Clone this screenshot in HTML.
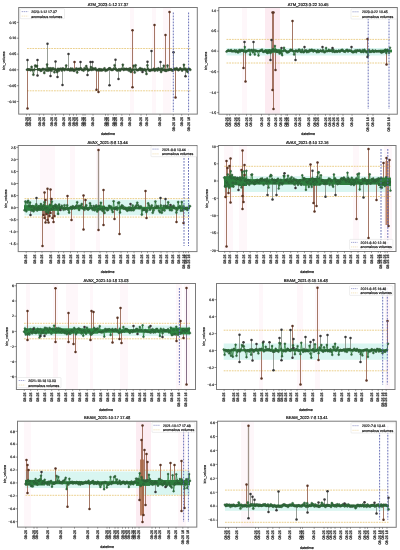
<!DOCTYPE html>
<html><head><meta charset="utf-8"><style>
html,body{margin:0;padding:0;background:#fff;width:400px;height:550px;overflow:hidden}
svg text{font-family:"Liberation Sans", sans-serif;text-rendering:geometricPrecision}
svg{will-change:transform}
svg text{stroke:#1a1a1a;stroke-width:0.2px;paint-order:stroke}
svg text.xl{fill:#2a2a2a;stroke:#2a2a2a;stroke-width:0.25px}
</style></head><body>
<svg width="400" height="550" viewBox="0 0 400 550" style="display:block">
<defs><marker id="m0" markerUnits="userSpaceOnUse" markerWidth="4" markerHeight="4" refX="2" refY="2" overflow="visible"><circle cx="2" cy="2" r="1.05" fill="#345e33" stroke="#2a3a2a" stroke-width="0.4"/></marker><marker id="m1" markerUnits="userSpaceOnUse" markerWidth="4" markerHeight="4" refX="2" refY="2" overflow="visible"><circle cx="2" cy="2" r="0.95" fill="#2e7d3e" stroke="#2c4431" stroke-width="0.4"/></marker><marker id="m2" markerUnits="userSpaceOnUse" markerWidth="4" markerHeight="4" refX="2" refY="2" overflow="visible"><circle cx="2" cy="2" r="1.05" fill="#2e7d3e" stroke="#2c4431" stroke-width="0.4"/></marker><marker id="m3" markerUnits="userSpaceOnUse" markerWidth="4" markerHeight="4" refX="2" refY="2" overflow="visible"><circle cx="2" cy="2" r="0.95" fill="#2e7d3e" stroke="#2c4431" stroke-width="0.4"/></marker><marker id="m4" markerUnits="userSpaceOnUse" markerWidth="4" markerHeight="4" refX="2" refY="2" overflow="visible"><circle cx="2" cy="2" r="0.95" fill="#2d8542" stroke="#2c4431" stroke-width="0.4"/></marker><marker id="m5" markerUnits="userSpaceOnUse" markerWidth="4" markerHeight="4" refX="2" refY="2" overflow="visible"><circle cx="2" cy="2" r="0.95" fill="#2e7d3e" stroke="#2c4431" stroke-width="0.4"/></marker><marker id="m6" markerUnits="userSpaceOnUse" markerWidth="4" markerHeight="4" refX="2" refY="2" overflow="visible"><circle cx="2" cy="2" r="0.95" fill="#2e7d3e" stroke="#2c4431" stroke-width="0.4"/></marker><marker id="m7" markerUnits="userSpaceOnUse" markerWidth="4" markerHeight="4" refX="2" refY="2" overflow="visible"><circle cx="2" cy="2" r="1.1" fill="#2e7d3e" stroke="#2c4431" stroke-width="0.4"/></marker></defs>
<rect width="400" height="550" fill="#fff"/>
<g>
<rect x="130" y="8.0" width="4" height="105.6" fill="#fef7fa"/>
<rect x="152" y="8.0" width="4" height="105.6" fill="#fef7fa"/>
<rect x="163" y="8.0" width="8" height="105.6" fill="#fef7fa"/>
<line x1="27.0" y1="48.5" x2="190.3" y2="48.5" stroke="#ebd08e" stroke-width="1.0" stroke-dasharray="1.8,0.9"/>
<line x1="27.0" y1="90.8" x2="190.3" y2="90.8" stroke="#ebd08e" stroke-width="1.0" stroke-dasharray="1.8,0.9"/>
<line x1="27.5" y1="69.5" x2="27.5" y2="108.6" stroke="#8e5640" stroke-width="0.8"/>
<line x1="27.5" y1="69.5" x2="27.5" y2="60" stroke="#7e857c" stroke-width="0.8"/>
<line x1="37.5" y1="69.5" x2="37.5" y2="60" stroke="#7e857c" stroke-width="0.8"/>
<line x1="37.5" y1="69.5" x2="37.5" y2="75.6" stroke="#7e857c" stroke-width="0.8"/>
<line x1="47.5" y1="69.5" x2="47.5" y2="43.8" stroke="#7e857c" stroke-width="0.8"/>
<line x1="50.5" y1="69.5" x2="50.5" y2="76" stroke="#7e857c" stroke-width="0.8"/>
<line x1="55.5" y1="69.5" x2="55.5" y2="61.6" stroke="#7e857c" stroke-width="0.8"/>
<line x1="57.5" y1="69.5" x2="57.5" y2="77" stroke="#7e857c" stroke-width="0.8"/>
<line x1="62.5" y1="69.5" x2="62.5" y2="85" stroke="#7e857c" stroke-width="0.8"/>
<line x1="68.5" y1="69.5" x2="68.5" y2="54" stroke="#7e857c" stroke-width="0.8"/>
<line x1="74.5" y1="69.5" x2="74.5" y2="62" stroke="#8e5640" stroke-width="0.8"/>
<line x1="80.5" y1="69.5" x2="80.5" y2="62" stroke="#7e857c" stroke-width="0.8"/>
<line x1="87.5" y1="69.5" x2="87.5" y2="75" stroke="#7e857c" stroke-width="0.8"/>
<line x1="90.5" y1="69.5" x2="90.5" y2="62" stroke="#7e857c" stroke-width="0.8"/>
<line x1="92.5" y1="69.5" x2="92.5" y2="62" stroke="#7e857c" stroke-width="0.8"/>
<line x1="96.5" y1="69.5" x2="96.5" y2="89.8" stroke="#8e5640" stroke-width="0.8"/>
<line x1="98.5" y1="69.5" x2="98.5" y2="92" stroke="#8e5640" stroke-width="0.8"/>
<line x1="109.5" y1="69.5" x2="109.5" y2="85.2" stroke="#7e857c" stroke-width="0.8"/>
<line x1="115.5" y1="69.5" x2="115.5" y2="59.8" stroke="#7e857c" stroke-width="0.8"/>
<line x1="118.5" y1="69.5" x2="118.5" y2="78.9" stroke="#7e857c" stroke-width="0.8"/>
<line x1="132.5" y1="69.5" x2="132.5" y2="30.3" stroke="#8e5640" stroke-width="0.8"/>
<line x1="132.5" y1="69.5" x2="132.5" y2="87.3" stroke="#8e5640" stroke-width="0.8"/>
<line x1="147.5" y1="69.5" x2="147.5" y2="61.8" stroke="#7e857c" stroke-width="0.8"/>
<line x1="151.5" y1="69.5" x2="151.5" y2="50.9" stroke="#7e857c" stroke-width="0.8"/>
<line x1="154.5" y1="69.5" x2="154.5" y2="25" stroke="#8e5640" stroke-width="0.8"/>
<line x1="165.5" y1="69.5" x2="165.5" y2="35.1" stroke="#8e5640" stroke-width="0.8"/>
<line x1="169.5" y1="69.5" x2="169.5" y2="12" stroke="#8e5640" stroke-width="0.8"/>
<line x1="173.5" y1="69.5" x2="173.5" y2="52.2" stroke="#7e857c" stroke-width="0.8"/>
<line x1="175.5" y1="69.5" x2="175.5" y2="97.5" stroke="#8e5640" stroke-width="0.8"/>
<line x1="185.5" y1="69.5" x2="185.5" y2="76.3" stroke="#7e857c" stroke-width="0.8"/>
<line x1="160.5" y1="69.5" x2="160.5" y2="62" stroke="#7e857c" stroke-width="0.8"/>
<line x1="142.5" y1="69.5" x2="142.5" y2="72" stroke="#7e857c" stroke-width="0.8"/>
<rect x="27.0" y="68.9" width="163.3" height="1.2" fill="#345e33"/>
<polyline points="27.0,69.7 27.9,69.4 28.8,69.7 29.7,69.5 30.6,70.3 31.6,66.9 32.5,70.0 33.4,74.7 34.3,69.8 35.2,65.6 36.1,66.5 37.0,65.9 37.9,69.5 38.9,69.5 39.8,69.4 40.7,70.8 41.6,70.4 42.5,69.0 43.4,69.0 44.3,73.0 45.2,69.2 46.2,70.4 47.1,64.5 48.0,70.7 48.9,68.4 49.8,70.2 50.7,68.4 51.6,70.7 52.5,68.5 53.5,68.5 54.4,72.3 55.3,69.4 56.2,70.1 57.1,72.1 58.0,68.8 58.9,70.7 59.8,69.0 60.8,68.7 61.7,70.4 62.6,68.5 63.5,68.8 64.4,70.2 65.3,69.0 66.2,65.5 67.1,69.8 68.1,69.4 69.0,69.5 69.9,70.5 70.8,68.6 71.7,70.3 72.6,68.7 73.5,70.6 74.4,70.7 75.4,69.8 76.3,68.5 77.2,72.5 78.1,68.9 79.0,69.8 79.9,68.7 80.8,68.4 81.7,69.7 82.6,69.8 83.6,70.6 84.5,68.2 85.4,69.4 86.3,66.1 87.2,68.5 88.1,70.5 89.0,69.9 89.9,69.7 90.9,67.1 91.8,70.0 92.7,68.3 93.6,69.5 94.5,69.0 95.4,68.4 96.3,70.1 97.2,70.1 98.2,70.3 99.1,69.1 100.0,70.5 100.9,69.3 101.8,70.4 102.7,69.8 103.6,69.7 104.5,68.4 105.5,70.8 106.4,70.1 107.3,70.1 108.2,69.3 109.1,68.4 110.0,68.3 110.9,69.5 111.8,70.0 112.8,69.8 113.7,68.9 114.6,65.2 115.5,68.6 116.4,69.9 117.3,70.5 118.2,69.9 119.1,69.3 120.1,70.6 121.0,69.2 121.9,69.0 122.8,64.7 123.7,70.0 124.6,68.9 125.5,69.4 126.4,68.8 127.4,69.8 128.3,69.0 129.2,70.8 130.1,68.4 131.0,71.9 131.9,69.7 132.8,70.3 133.7,65.8 134.7,72.5 135.6,65.3 136.5,69.8 137.4,70.3 138.3,70.0 139.2,69.4 140.1,68.2 141.0,70.1 141.9,68.9 142.9,70.0 143.8,69.8 144.7,69.2 145.6,70.6 146.5,74.0 147.4,65.3 148.3,69.2 149.2,70.5 150.2,70.7 151.1,69.9 152.0,70.1 152.9,69.9 153.8,68.8 154.7,70.7 155.6,69.6 156.5,69.0 157.5,70.4 158.4,68.4 159.3,69.6 160.2,69.5 161.1,72.0 162.0,68.6 162.9,70.2 163.8,65.7 164.8,70.4 165.7,70.7 166.6,70.7 167.5,65.6 168.4,70.1 169.3,69.6 170.2,69.7 171.1,69.2 172.1,70.5 173.0,70.4 173.9,69.6 174.8,68.7 175.7,69.5 176.6,68.3 177.5,69.5 178.4,70.3 179.4,69.5 180.3,68.4 181.2,69.3 182.1,70.6 183.0,69.4 183.9,64.8 184.8,69.4 185.7,68.7 186.7,70.6 187.6,71.9 188.5,68.8 189.4,69.0 190.3,69.8" fill="none" stroke="#345e33" stroke-width="0.8" stroke-linejoin="round" marker-start="url(#m0)" marker-mid="url(#m0)" marker-end="url(#m0)"/>
<circle cx="27.5" cy="108.6" r="1.25" fill="#5a3424"/>
<circle cx="27.5" cy="60" r="1.25" fill="#383838"/>
<circle cx="37.5" cy="60" r="1.25" fill="#383838"/>
<circle cx="37.5" cy="75.6" r="1.25" fill="#383838"/>
<circle cx="47.5" cy="43.8" r="1.25" fill="#383838"/>
<circle cx="50.5" cy="76" r="1.25" fill="#383838"/>
<circle cx="55.5" cy="61.6" r="1.25" fill="#383838"/>
<circle cx="57.5" cy="77" r="1.25" fill="#383838"/>
<circle cx="62.5" cy="85" r="1.25" fill="#383838"/>
<circle cx="68.5" cy="54" r="1.25" fill="#383838"/>
<circle cx="74.5" cy="62" r="1.25" fill="#5a3424"/>
<circle cx="80.5" cy="62" r="1.25" fill="#383838"/>
<circle cx="87.5" cy="75" r="1.25" fill="#383838"/>
<circle cx="90.5" cy="62" r="1.25" fill="#383838"/>
<circle cx="92.5" cy="62" r="1.25" fill="#383838"/>
<circle cx="96.5" cy="89.8" r="1.25" fill="#5a3424"/>
<circle cx="98.5" cy="92" r="1.25" fill="#5a3424"/>
<circle cx="109.5" cy="85.2" r="1.25" fill="#383838"/>
<circle cx="115.5" cy="59.8" r="1.25" fill="#383838"/>
<circle cx="118.5" cy="78.9" r="1.25" fill="#383838"/>
<circle cx="132.5" cy="30.3" r="1.25" fill="#5a3424"/>
<circle cx="132.5" cy="87.3" r="1.25" fill="#5a3424"/>
<circle cx="147.5" cy="61.8" r="1.25" fill="#383838"/>
<circle cx="151.5" cy="50.9" r="1.25" fill="#383838"/>
<circle cx="154.5" cy="25" r="1.25" fill="#5a3424"/>
<circle cx="165.5" cy="35.1" r="1.25" fill="#5a3424"/>
<circle cx="169.5" cy="12" r="1.25" fill="#5a3424"/>
<circle cx="173.5" cy="52.2" r="1.25" fill="#383838"/>
<circle cx="175.5" cy="97.5" r="1.25" fill="#5a3424"/>
<circle cx="185.5" cy="76.3" r="1.25" fill="#383838"/>
<circle cx="160.5" cy="62" r="1.25" fill="#383838"/>
<circle cx="142.5" cy="72" r="1.25" fill="#383838"/>
<line x1="173.3" y1="12.5" x2="173.3" y2="112" stroke="#5a62b0" stroke-width="0.9" stroke-dasharray="1.8,1.2"/>
<line x1="188.6" y1="12.5" x2="188.6" y2="112" stroke="#5a62b0" stroke-width="0.9" stroke-dasharray="1.8,1.2"/>
<rect x="18.7" y="7.5" width="178.6" height="106.6" fill="none" stroke="#7a7a7a" stroke-width="1.0"/>
<line x1="16.7" y1="22.4" x2="18.7" y2="22.4" stroke="#444" stroke-width="0.6"/>
<text x="16.1" y="23.6" font-size="3.4" text-anchor="end" fill="#1a1a1a">0.15</text>
<line x1="16.7" y1="38.2" x2="18.7" y2="38.2" stroke="#444" stroke-width="0.6"/>
<text x="16.1" y="39.4" font-size="3.4" text-anchor="end" fill="#1a1a1a">0.10</text>
<line x1="16.7" y1="54.1" x2="18.7" y2="54.1" stroke="#444" stroke-width="0.6"/>
<text x="16.1" y="55.3" font-size="3.4" text-anchor="end" fill="#1a1a1a">0.05</text>
<line x1="16.7" y1="69.8" x2="18.7" y2="69.8" stroke="#444" stroke-width="0.6"/>
<text x="16.1" y="71.0" font-size="3.4" text-anchor="end" fill="#1a1a1a">0.00</text>
<line x1="16.7" y1="85.7" x2="18.7" y2="85.7" stroke="#444" stroke-width="0.6"/>
<text x="16.1" y="86.9" font-size="3.4" text-anchor="end" fill="#1a1a1a">−0.05</text>
<line x1="16.7" y1="101.5" x2="18.7" y2="101.5" stroke="#444" stroke-width="0.6"/>
<text x="16.1" y="102.7" font-size="3.4" text-anchor="end" fill="#1a1a1a">−0.10</text>
<line x1="26.5" y1="114.1" x2="26.5" y2="115.69999999999999" stroke="#444" stroke-width="0.5"/>
<text transform="translate(27.7,117.1) rotate(-90)" font-size="3.6" text-anchor="end" class="xl">08-25</text>
<line x1="29.5" y1="114.1" x2="29.5" y2="115.69999999999999" stroke="#444" stroke-width="0.5"/>
<text transform="translate(30.7,117.1) rotate(-90)" font-size="3.6" text-anchor="end" class="xl">08-25</text>
<line x1="39.3" y1="114.1" x2="39.3" y2="115.69999999999999" stroke="#444" stroke-width="0.5"/>
<text transform="translate(40.5,117.1) rotate(-90)" font-size="3.6" text-anchor="end" class="xl">08-25</text>
<line x1="43.7" y1="114.1" x2="43.7" y2="115.69999999999999" stroke="#444" stroke-width="0.5"/>
<text transform="translate(44.9,117.1) rotate(-90)" font-size="3.6" text-anchor="end" class="xl">08-25</text>
<line x1="52" y1="114.1" x2="52" y2="115.69999999999999" stroke="#444" stroke-width="0.5"/>
<text transform="translate(53.2,117.1) rotate(-90)" font-size="3.6" text-anchor="end" class="xl">08-25</text>
<line x1="55.5" y1="114.1" x2="55.5" y2="115.69999999999999" stroke="#444" stroke-width="0.5"/>
<text transform="translate(56.7,117.1) rotate(-90)" font-size="3.6" text-anchor="end" class="xl">08-25</text>
<line x1="63.6" y1="114.1" x2="63.6" y2="115.69999999999999" stroke="#444" stroke-width="0.5"/>
<text transform="translate(64.8,117.1) rotate(-90)" font-size="3.6" text-anchor="end" class="xl">08-25</text>
<line x1="69.5" y1="114.1" x2="69.5" y2="115.69999999999999" stroke="#444" stroke-width="0.5"/>
<text transform="translate(70.7,117.1) rotate(-90)" font-size="3.6" text-anchor="end" class="xl">08-25</text>
<line x1="73.5" y1="114.1" x2="73.5" y2="115.69999999999999" stroke="#444" stroke-width="0.5"/>
<text transform="translate(74.7,117.1) rotate(-90)" font-size="3.6" text-anchor="end" class="xl">08-25</text>
<line x1="76.5" y1="114.1" x2="76.5" y2="115.69999999999999" stroke="#444" stroke-width="0.5"/>
<text transform="translate(77.7,117.1) rotate(-90)" font-size="3.6" text-anchor="end" class="xl">08-25</text>
<line x1="83" y1="114.1" x2="83" y2="115.69999999999999" stroke="#444" stroke-width="0.5"/>
<text transform="translate(84.2,117.1) rotate(-90)" font-size="3.6" text-anchor="end" class="xl">08-25</text>
<line x1="85" y1="114.1" x2="85" y2="115.69999999999999" stroke="#444" stroke-width="0.5"/>
<text transform="translate(86.2,117.1) rotate(-90)" font-size="3.6" text-anchor="end" class="xl">08-25</text>
<line x1="93" y1="114.1" x2="93" y2="115.69999999999999" stroke="#444" stroke-width="0.5"/>
<text transform="translate(94.2,117.1) rotate(-90)" font-size="3.6" text-anchor="end" class="xl">08-25</text>
<line x1="105.5" y1="114.1" x2="105.5" y2="115.69999999999999" stroke="#444" stroke-width="0.5"/>
<text transform="translate(106.7,117.1) rotate(-90)" font-size="3.6" text-anchor="end" class="xl">08-25</text>
<line x1="108" y1="114.1" x2="108" y2="115.69999999999999" stroke="#444" stroke-width="0.5"/>
<text transform="translate(109.2,117.1) rotate(-90)" font-size="3.6" text-anchor="end" class="xl">08-25</text>
<line x1="113.5" y1="114.1" x2="113.5" y2="115.69999999999999" stroke="#444" stroke-width="0.5"/>
<text transform="translate(114.7,117.1) rotate(-90)" font-size="3.6" text-anchor="end" class="xl">08-25</text>
<line x1="116" y1="114.1" x2="116" y2="115.69999999999999" stroke="#444" stroke-width="0.5"/>
<text transform="translate(117.2,117.1) rotate(-90)" font-size="3.6" text-anchor="end" class="xl">08-25</text>
<line x1="121.8" y1="114.1" x2="121.8" y2="115.69999999999999" stroke="#444" stroke-width="0.5"/>
<text transform="translate(123.0,117.1) rotate(-90)" font-size="3.6" text-anchor="end" class="xl">08-25</text>
<line x1="129.5" y1="114.1" x2="129.5" y2="115.69999999999999" stroke="#444" stroke-width="0.5"/>
<text transform="translate(130.7,117.1) rotate(-90)" font-size="3.6" text-anchor="end" class="xl">08-25</text>
<line x1="141" y1="114.1" x2="141" y2="115.69999999999999" stroke="#444" stroke-width="0.5"/>
<text transform="translate(142.2,117.1) rotate(-90)" font-size="3.6" text-anchor="end" class="xl">08-25</text>
<line x1="146.5" y1="114.1" x2="146.5" y2="115.69999999999999" stroke="#444" stroke-width="0.5"/>
<text transform="translate(147.7,117.1) rotate(-90)" font-size="3.6" text-anchor="end" class="xl">08-25</text>
<line x1="160" y1="114.1" x2="160" y2="115.69999999999999" stroke="#444" stroke-width="0.5"/>
<text transform="translate(161.2,117.1) rotate(-90)" font-size="3.6" text-anchor="end" class="xl">08-25</text>
<line x1="181.7" y1="114.1" x2="181.7" y2="115.69999999999999" stroke="#444" stroke-width="0.5"/>
<text transform="translate(182.9,117.1) rotate(-90)" font-size="3.6" text-anchor="end" class="xl">08-25</text>
<line x1="173.3" y1="114.1" x2="173.3" y2="115.69999999999999" stroke="#444" stroke-width="0.5"/>
<text transform="translate(174.5,117.1) rotate(-90)" font-size="3.6" text-anchor="end" class="xl">08-25 16</text>
<line x1="188.5" y1="114.1" x2="188.5" y2="115.69999999999999" stroke="#444" stroke-width="0.5"/>
<text transform="translate(189.7,117.1) rotate(-90)" font-size="3.6" text-anchor="end" class="xl">08-25 16</text>
<text x="108.0" y="5.6" font-size="4.1" text-anchor="middle" fill="#1a1a1a">ATM_2023-1-12 17.37</text>
<text x="108.0" y="135.3" font-size="3.6" text-anchor="middle" fill="#1a1a1a">datetime</text>
<text transform="translate(5.3,60.8) rotate(-90)" font-size="3.6" text-anchor="middle" fill="#1a1a1a">bin_volume</text>
<rect x="20.2" y="8.7" width="44.3" height="10.0" rx="0.8" fill="#fff" fill-opacity="0.85" stroke="#d4d4d4" stroke-width="0.4"/>
<line x1="21.7" y1="11.6" x2="28.2" y2="11.6" stroke="#5a62b0" stroke-width="0.6" stroke-dasharray="1.2,0.8"/>
<line x1="21.7" y1="16.1" x2="28.2" y2="16.1" stroke="#ebd08e" stroke-width="0.6" stroke-dasharray="1.2,0.8"/>
<text x="31.2" y="13.2" font-size="3.5" fill="#1a1a1a">2023-1-12 17.37</text>
<text x="31.2" y="17.6" font-size="3.5" fill="#1a1a1a">anomalous volumes</text>
</g>
<g>
<rect x="242" y="8.0" width="5" height="105.7" fill="#fef7fa"/>
<rect x="265" y="8.0" width="15" height="105.7" fill="#fcebf1"/>
<rect x="226.5" y="48" width="163.5" height="7.5" fill="#d9f6f1"/>
<line x1="226.5" y1="39.4" x2="390.0" y2="39.4" stroke="#ebd08e" stroke-width="1.0" stroke-dasharray="1.8,0.9"/>
<line x1="226.5" y1="63.0" x2="390.0" y2="63.0" stroke="#ebd08e" stroke-width="1.0" stroke-dasharray="1.8,0.9"/>
<line x1="243.5" y1="51.0" x2="243.5" y2="68" stroke="#8e5640" stroke-width="0.8"/>
<line x1="245.5" y1="51.0" x2="245.5" y2="81.4" stroke="#8e5640" stroke-width="0.8"/>
<line x1="244.5" y1="51.0" x2="244.5" y2="42" stroke="#7e857c" stroke-width="0.8"/>
<line x1="253.5" y1="51.0" x2="253.5" y2="42" stroke="#7e857c" stroke-width="0.8"/>
<line x1="272.5" y1="51.0" x2="272.5" y2="12.5" stroke="#8e5640" stroke-width="0.8"/>
<line x1="273.5" y1="51.0" x2="273.5" y2="12.5" stroke="#8e5640" stroke-width="0.8"/>
<line x1="273.5" y1="51.0" x2="273.5" y2="109" stroke="#8e5640" stroke-width="0.8"/>
<line x1="272.5" y1="51.0" x2="272.5" y2="90" stroke="#8e5640" stroke-width="0.8"/>
<line x1="275.5" y1="51.0" x2="275.5" y2="70" stroke="#8e5640" stroke-width="0.8"/>
<line x1="271.5" y1="51.0" x2="271.5" y2="40" stroke="#7e857c" stroke-width="0.8"/>
<line x1="292.5" y1="51.0" x2="292.5" y2="20.9" stroke="#8e5640" stroke-width="0.8"/>
<line x1="295.5" y1="51.0" x2="295.5" y2="60" stroke="#7e857c" stroke-width="0.8"/>
<line x1="270.5" y1="51.0" x2="270.5" y2="60" stroke="#7e857c" stroke-width="0.8"/>
<line x1="281.5" y1="51.0" x2="281.5" y2="48" stroke="#7e857c" stroke-width="0.8"/>
<line x1="367.5" y1="51.0" x2="367.5" y2="39" stroke="#8e5640" stroke-width="0.8"/>
<line x1="367.5" y1="51.0" x2="367.5" y2="57" stroke="#7e857c" stroke-width="0.8"/>
<line x1="386.5" y1="51.0" x2="386.5" y2="64.5" stroke="#8e5640" stroke-width="0.8"/>
<line x1="322.5" y1="51.0" x2="322.5" y2="47" stroke="#7e857c" stroke-width="0.8"/>
<line x1="351.5" y1="51.0" x2="351.5" y2="47" stroke="#7e857c" stroke-width="0.8"/>
<line x1="304.5" y1="51.0" x2="304.5" y2="47" stroke="#7e857c" stroke-width="0.8"/>
<line x1="332.5" y1="51.0" x2="332.5" y2="48" stroke="#7e857c" stroke-width="0.8"/>
<rect x="226.5" y="50.4" width="163.5" height="1.3" fill="#2e7d3e"/>
<rect x="265.0" y="49.2" width="17.0" height="3.5" fill="#2e7d3e"/>
<rect x="380.0" y="49.6" width="12.0" height="2.8" fill="#2e7d3e"/>
<polyline points="226.5,51.6 227.4,51.0 228.3,50.2 229.2,50.8 230.2,50.8 231.1,50.0 232.0,51.4 232.9,51.1 233.8,51.3 234.7,50.3 235.6,51.9 236.5,50.5 237.5,52.2 238.4,52.4 239.3,50.0 240.2,51.6 241.1,49.9 242.0,50.8 242.9,50.0 243.9,51.5 244.8,46.9 245.7,52.3 246.6,51.0 247.5,51.0 248.4,50.1 249.3,49.9 250.2,54.7 251.2,50.0 252.1,50.2 253.0,52.4 253.9,49.9 254.8,54.6 255.7,50.5 256.6,51.0 257.6,51.3 258.5,55.5 259.4,50.9 260.3,50.7 261.2,50.1 262.1,49.6 263.0,51.8 263.9,52.0 264.9,50.7 265.8,51.0 266.7,52.5 267.6,53.1 268.5,52.4 269.4,50.5 270.3,52.9 271.3,52.3 272.2,50.5 273.1,48.9 274.0,50.8 274.9,45.9 275.8,49.7 276.7,51.8 277.7,51.8 278.6,51.2 279.5,53.5 280.4,52.0 281.3,53.4 282.2,55.2 283.1,50.7 284.0,47.7 285.0,50.3 285.9,51.1 286.8,52.3 287.7,52.4 288.6,51.9 289.5,51.3 290.4,49.7 291.4,50.0 292.3,50.1 293.2,51.3 294.1,54.5 295.0,51.3 295.9,50.4 296.8,51.2 297.7,51.6 298.7,49.6 299.6,49.7 300.5,51.7 301.4,52.1 302.3,49.7 303.2,52.2 304.1,52.1 305.1,50.9 306.0,50.3 306.9,52.2 307.8,50.9 308.7,51.9 309.6,49.9 310.5,50.9 311.4,49.7 312.4,49.9 313.3,51.5 314.2,50.3 315.1,50.8 316.0,51.1 316.9,52.3 317.8,50.3 318.8,52.1 319.7,51.3 320.6,50.4 321.5,51.2 322.4,51.4 323.3,50.1 324.2,52.3 325.1,52.1 326.1,47.9 327.0,51.3 327.9,51.1 328.8,49.8 329.7,51.1 330.6,50.6 331.5,50.2 332.5,51.7 333.4,49.8 334.3,51.9 335.2,51.8 336.1,50.8 337.0,51.9 337.9,51.4 338.8,50.5 339.8,51.7 340.7,50.8 341.6,49.9 342.5,49.8 343.4,51.2 344.3,51.5 345.2,51.8 346.2,50.2 347.1,49.8 348.0,51.6 348.9,50.4 349.8,50.6 350.7,50.6 351.6,51.6 352.6,52.2 353.5,52.2 354.4,51.8 355.3,50.5 356.2,52.2 357.1,50.3 358.0,50.6 358.9,50.7 359.9,50.1 360.8,51.8 361.7,51.9 362.6,50.1 363.5,52.1 364.4,49.7 365.3,51.1 366.3,52.3 367.2,51.9 368.1,55.4 369.0,49.8 369.9,52.1 370.8,51.4 371.7,51.7 372.6,50.3 373.6,51.7 374.5,51.7 375.4,50.5 376.3,51.5 377.2,51.1 378.1,51.6 379.0,50.7 380.0,51.5 380.9,52.2 381.8,52.6 382.7,51.6 383.6,51.8 384.5,50.7 385.4,49.6 386.3,53.0 387.3,49.7 388.2,50.7 389.1,52.9 390.0,47.7" fill="none" stroke="#2e7d3e" stroke-width="0.8" stroke-linejoin="round" marker-start="url(#m1)" marker-mid="url(#m1)" marker-end="url(#m1)"/>
<circle cx="243.5" cy="68" r="1.25" fill="#5a3424"/>
<circle cx="245.5" cy="81.4" r="1.25" fill="#5a3424"/>
<circle cx="244.5" cy="42" r="1.25" fill="#383838"/>
<circle cx="253.5" cy="42" r="1.25" fill="#383838"/>
<circle cx="272.5" cy="12.5" r="1.25" fill="#5a3424"/>
<circle cx="273.5" cy="12.5" r="1.25" fill="#5a3424"/>
<circle cx="273.5" cy="109" r="1.25" fill="#5a3424"/>
<circle cx="272.5" cy="90" r="1.25" fill="#5a3424"/>
<circle cx="275.5" cy="70" r="1.25" fill="#5a3424"/>
<circle cx="271.5" cy="40" r="1.25" fill="#383838"/>
<circle cx="292.5" cy="20.9" r="1.25" fill="#5a3424"/>
<circle cx="295.5" cy="60" r="1.25" fill="#383838"/>
<circle cx="270.5" cy="60" r="1.25" fill="#383838"/>
<circle cx="281.5" cy="48" r="1.25" fill="#383838"/>
<circle cx="367.5" cy="39" r="1.25" fill="#5a3424"/>
<circle cx="367.5" cy="57" r="1.25" fill="#383838"/>
<circle cx="386.5" cy="64.5" r="1.25" fill="#5a3424"/>
<circle cx="322.5" cy="47" r="1.25" fill="#383838"/>
<circle cx="351.5" cy="47" r="1.25" fill="#383838"/>
<circle cx="304.5" cy="47" r="1.25" fill="#383838"/>
<circle cx="332.5" cy="48" r="1.25" fill="#383838"/>
<line x1="368.2" y1="12.5" x2="368.2" y2="109" stroke="#5a62b0" stroke-width="0.9" stroke-dasharray="1.8,1.2"/>
<line x1="389" y1="12.5" x2="389" y2="109" stroke="#5a62b0" stroke-width="0.9" stroke-dasharray="1.8,1.2"/>
<rect x="218.8" y="7.5" width="178.5" height="106.7" fill="none" stroke="#7a7a7a" stroke-width="1.0"/>
<line x1="216.8" y1="10.7" x2="218.8" y2="10.7" stroke="#444" stroke-width="0.6"/>
<text x="216.2" y="11.9" font-size="3.4" text-anchor="end" fill="#1a1a1a">1.0</text>
<line x1="216.8" y1="31.1" x2="218.8" y2="31.1" stroke="#444" stroke-width="0.6"/>
<text x="216.2" y="32.3" font-size="3.4" text-anchor="end" fill="#1a1a1a">0.5</text>
<line x1="216.8" y1="51.2" x2="218.8" y2="51.2" stroke="#444" stroke-width="0.6"/>
<text x="216.2" y="52.4" font-size="3.4" text-anchor="end" fill="#1a1a1a">0.0</text>
<line x1="216.8" y1="71.8" x2="218.8" y2="71.8" stroke="#444" stroke-width="0.6"/>
<text x="216.2" y="73.0" font-size="3.4" text-anchor="end" fill="#1a1a1a">−0.5</text>
<line x1="216.8" y1="92.3" x2="218.8" y2="92.3" stroke="#444" stroke-width="0.6"/>
<text x="216.2" y="93.5" font-size="3.4" text-anchor="end" fill="#1a1a1a">−1.0</text>
<line x1="216.8" y1="112.7" x2="218.8" y2="112.7" stroke="#444" stroke-width="0.6"/>
<text x="216.2" y="113.9" font-size="3.4" text-anchor="end" fill="#1a1a1a">−1.5</text>
<line x1="227" y1="114.2" x2="227" y2="115.8" stroke="#444" stroke-width="0.5"/>
<text transform="translate(228.2,117.2) rotate(-90)" font-size="3.6" text-anchor="end" class="xl">08-25</text>
<line x1="229.7" y1="114.2" x2="229.7" y2="115.8" stroke="#444" stroke-width="0.5"/>
<text transform="translate(230.9,117.2) rotate(-90)" font-size="3.6" text-anchor="end" class="xl">08-25</text>
<line x1="235.5" y1="114.2" x2="235.5" y2="115.8" stroke="#444" stroke-width="0.5"/>
<text transform="translate(236.7,117.2) rotate(-90)" font-size="3.6" text-anchor="end" class="xl">08-25</text>
<line x1="239" y1="114.2" x2="239" y2="115.8" stroke="#444" stroke-width="0.5"/>
<text transform="translate(240.2,117.2) rotate(-90)" font-size="3.6" text-anchor="end" class="xl">08-25</text>
<line x1="246.5" y1="114.2" x2="246.5" y2="115.8" stroke="#444" stroke-width="0.5"/>
<text transform="translate(247.7,117.2) rotate(-90)" font-size="3.6" text-anchor="end" class="xl">08-25</text>
<line x1="251" y1="114.2" x2="251" y2="115.8" stroke="#444" stroke-width="0.5"/>
<text transform="translate(252.2,117.2) rotate(-90)" font-size="3.6" text-anchor="end" class="xl">08-25</text>
<line x1="261.5" y1="114.2" x2="261.5" y2="115.8" stroke="#444" stroke-width="0.5"/>
<text transform="translate(262.7,117.2) rotate(-90)" font-size="3.6" text-anchor="end" class="xl">08-25</text>
<line x1="269" y1="114.2" x2="269" y2="115.8" stroke="#444" stroke-width="0.5"/>
<text transform="translate(270.2,117.2) rotate(-90)" font-size="3.6" text-anchor="end" class="xl">08-25</text>
<line x1="275.8" y1="114.2" x2="275.8" y2="115.8" stroke="#444" stroke-width="0.5"/>
<text transform="translate(277.0,117.2) rotate(-90)" font-size="3.6" text-anchor="end" class="xl">08-25</text>
<line x1="281.2" y1="114.2" x2="281.2" y2="115.8" stroke="#444" stroke-width="0.5"/>
<text transform="translate(282.4,117.2) rotate(-90)" font-size="3.6" text-anchor="end" class="xl">08-25</text>
<line x1="286" y1="114.2" x2="286" y2="115.8" stroke="#444" stroke-width="0.5"/>
<text transform="translate(287.2,117.2) rotate(-90)" font-size="3.6" text-anchor="end" class="xl">08-25</text>
<line x1="287.5" y1="114.2" x2="287.5" y2="115.8" stroke="#444" stroke-width="0.5"/>
<text transform="translate(288.7,117.2) rotate(-90)" font-size="3.6" text-anchor="end" class="xl">08-25</text>
<line x1="296" y1="114.2" x2="296" y2="115.8" stroke="#444" stroke-width="0.5"/>
<text transform="translate(297.2,117.2) rotate(-90)" font-size="3.6" text-anchor="end" class="xl">08-25</text>
<line x1="299.5" y1="114.2" x2="299.5" y2="115.8" stroke="#444" stroke-width="0.5"/>
<text transform="translate(300.7,117.2) rotate(-90)" font-size="3.6" text-anchor="end" class="xl">08-25</text>
<line x1="309" y1="114.2" x2="309" y2="115.8" stroke="#444" stroke-width="0.5"/>
<text transform="translate(310.2,117.2) rotate(-90)" font-size="3.6" text-anchor="end" class="xl">08-25</text>
<line x1="315" y1="114.2" x2="315" y2="115.8" stroke="#444" stroke-width="0.5"/>
<text transform="translate(316.2,117.2) rotate(-90)" font-size="3.6" text-anchor="end" class="xl">08-25</text>
<line x1="318" y1="114.2" x2="318" y2="115.8" stroke="#444" stroke-width="0.5"/>
<text transform="translate(319.2,117.2) rotate(-90)" font-size="3.6" text-anchor="end" class="xl">08-25</text>
<line x1="325.5" y1="114.2" x2="325.5" y2="115.8" stroke="#444" stroke-width="0.5"/>
<text transform="translate(326.7,117.2) rotate(-90)" font-size="3.6" text-anchor="end" class="xl">08-25</text>
<line x1="330" y1="114.2" x2="330" y2="115.8" stroke="#444" stroke-width="0.5"/>
<text transform="translate(331.2,117.2) rotate(-90)" font-size="3.6" text-anchor="end" class="xl">08-25</text>
<line x1="334" y1="114.2" x2="334" y2="115.8" stroke="#444" stroke-width="0.5"/>
<text transform="translate(335.2,117.2) rotate(-90)" font-size="3.6" text-anchor="end" class="xl">08-25</text>
<line x1="338" y1="114.2" x2="338" y2="115.8" stroke="#444" stroke-width="0.5"/>
<text transform="translate(339.2,117.2) rotate(-90)" font-size="3.6" text-anchor="end" class="xl">08-25</text>
<line x1="343" y1="114.2" x2="343" y2="115.8" stroke="#444" stroke-width="0.5"/>
<text transform="translate(344.2,117.2) rotate(-90)" font-size="3.6" text-anchor="end" class="xl">08-25</text>
<line x1="352" y1="114.2" x2="352" y2="115.8" stroke="#444" stroke-width="0.5"/>
<text transform="translate(353.2,117.2) rotate(-90)" font-size="3.6" text-anchor="end" class="xl">08-25</text>
<line x1="373" y1="114.2" x2="373" y2="115.8" stroke="#444" stroke-width="0.5"/>
<text transform="translate(374.2,117.2) rotate(-90)" font-size="3.6" text-anchor="end" class="xl">08-25</text>
<line x1="367.8" y1="114.2" x2="367.8" y2="115.8" stroke="#444" stroke-width="0.5"/>
<text transform="translate(369.0,117.2) rotate(-90)" font-size="3.6" text-anchor="end" class="xl">08-25 16</text>
<line x1="389" y1="114.2" x2="389" y2="115.8" stroke="#444" stroke-width="0.5"/>
<text transform="translate(390.2,117.2) rotate(-90)" font-size="3.6" text-anchor="end" class="xl">08-25 16</text>
<text x="308.1" y="5.6" font-size="4.1" text-anchor="middle" fill="#1a1a1a">ATM_2023-3-22 10.45</text>
<text x="308.1" y="135.4" font-size="3.6" text-anchor="middle" fill="#1a1a1a">datetime</text>
<text transform="translate(207.3,60.9) rotate(-90)" font-size="3.6" text-anchor="middle" fill="#1a1a1a">bin_volume</text>
<rect x="351.0" y="8.9" width="45.7" height="10.1" rx="0.8" fill="#fff" fill-opacity="0.85" stroke="#d4d4d4" stroke-width="0.4"/>
<line x1="352.5" y1="11.8" x2="359.0" y2="11.8" stroke="#5a62b0" stroke-width="0.6" stroke-dasharray="1.2,0.8"/>
<line x1="352.5" y1="16.4" x2="359.0" y2="16.4" stroke="#ebd08e" stroke-width="0.6" stroke-dasharray="1.2,0.8"/>
<text x="362.0" y="13.4" font-size="3.5" fill="#1a1a1a">2023-3-22 10.45</text>
<text x="362.0" y="17.9" font-size="3.5" fill="#1a1a1a">anomalous volumes</text>
</g>
<g>
<rect x="40" y="146.0" width="15" height="105.1" fill="#fef7fa"/>
<rect x="70" y="146.0" width="5" height="105.1" fill="#fef7fa"/>
<rect x="96" y="146.0" width="4" height="105.1" fill="#fef7fa"/>
<rect x="24.5" y="199.8" width="165.5" height="15.5" fill="#d9f6f1"/>
<line x1="24.5" y1="198.6" x2="190.0" y2="198.6" stroke="#ebd08e" stroke-width="1.0" stroke-dasharray="1.8,0.9"/>
<line x1="24.5" y1="217.1" x2="190.0" y2="217.1" stroke="#ebd08e" stroke-width="1.0" stroke-dasharray="1.8,0.9"/>
<line x1="42.5" y1="208.0" x2="42.5" y2="246" stroke="#8e5640" stroke-width="0.8"/>
<line x1="44.5" y1="208.0" x2="44.5" y2="192.5" stroke="#8e5640" stroke-width="0.8"/>
<line x1="47.5" y1="208.0" x2="47.5" y2="188.7" stroke="#8e5640" stroke-width="0.8"/>
<line x1="50.5" y1="208.0" x2="50.5" y2="189.5" stroke="#8e5640" stroke-width="0.8"/>
<line x1="45.5" y1="208.0" x2="45.5" y2="222.5" stroke="#8e5640" stroke-width="0.8"/>
<line x1="48.5" y1="208.0" x2="48.5" y2="222.5" stroke="#8e5640" stroke-width="0.8"/>
<line x1="53.5" y1="208.0" x2="53.5" y2="222" stroke="#8e5640" stroke-width="0.8"/>
<line x1="67.5" y1="208.0" x2="67.5" y2="196" stroke="#8e5640" stroke-width="0.8"/>
<line x1="71.5" y1="208.0" x2="71.5" y2="220" stroke="#8e5640" stroke-width="0.8"/>
<line x1="83.5" y1="208.0" x2="83.5" y2="195.5" stroke="#8e5640" stroke-width="0.8"/>
<line x1="83.5" y1="208.0" x2="83.5" y2="229.5" stroke="#8e5640" stroke-width="0.8"/>
<line x1="85.5" y1="208.0" x2="85.5" y2="200" stroke="#8e5640" stroke-width="0.8"/>
<line x1="98.5" y1="208.0" x2="98.5" y2="150" stroke="#a0948a" stroke-width="1.3"/>
<line x1="98.5" y1="208.0" x2="98.5" y2="230" stroke="#a0948a" stroke-width="1.3"/>
<line x1="103.5" y1="208.0" x2="103.5" y2="190" stroke="#8e5640" stroke-width="0.8"/>
<line x1="103.5" y1="208.0" x2="103.5" y2="225" stroke="#8e5640" stroke-width="0.8"/>
<line x1="114.5" y1="208.0" x2="114.5" y2="219" stroke="#8e5640" stroke-width="0.8"/>
<line x1="119.5" y1="208.0" x2="119.5" y2="234" stroke="#8e5640" stroke-width="0.8"/>
<line x1="145.5" y1="208.0" x2="145.5" y2="191" stroke="#8e5640" stroke-width="0.8"/>
<line x1="146.5" y1="208.0" x2="146.5" y2="218" stroke="#8e5640" stroke-width="0.8"/>
<line x1="176.5" y1="208.0" x2="176.5" y2="222" stroke="#8e5640" stroke-width="0.8"/>
<line x1="183.5" y1="208.0" x2="183.5" y2="223" stroke="#8e5640" stroke-width="0.8"/>
<line x1="30.5" y1="208.0" x2="30.5" y2="215" stroke="#7e857c" stroke-width="0.8"/>
<line x1="36.5" y1="208.0" x2="36.5" y2="198" stroke="#7e857c" stroke-width="0.8"/>
<line x1="60.5" y1="208.0" x2="60.5" y2="210" stroke="#7e857c" stroke-width="0.8"/>
<line x1="130.5" y1="208.0" x2="130.5" y2="204" stroke="#7e857c" stroke-width="0.8"/>
<line x1="160.5" y1="208.0" x2="160.5" y2="198" stroke="#7e857c" stroke-width="0.8"/>
<line x1="165.5" y1="208.0" x2="165.5" y2="199" stroke="#7e857c" stroke-width="0.8"/>
<line x1="170.5" y1="208.0" x2="170.5" y2="205" stroke="#7e857c" stroke-width="0.8"/>
<line x1="43.5" y1="208.0" x2="43.5" y2="215" stroke="#8e5640" stroke-width="0.8"/>
<line x1="44.5" y1="208.0" x2="44.5" y2="218" stroke="#8e5640" stroke-width="0.8"/>
<line x1="46.5" y1="208.0" x2="46.5" y2="214" stroke="#8e5640" stroke-width="0.8"/>
<line x1="47.5" y1="208.0" x2="47.5" y2="220" stroke="#8e5640" stroke-width="0.8"/>
<line x1="49.5" y1="208.0" x2="49.5" y2="216" stroke="#8e5640" stroke-width="0.8"/>
<line x1="50.5" y1="208.0" x2="50.5" y2="213" stroke="#8e5640" stroke-width="0.8"/>
<line x1="52.5" y1="208.0" x2="52.5" y2="218" stroke="#8e5640" stroke-width="0.8"/>
<line x1="54.5" y1="208.0" x2="54.5" y2="216" stroke="#8e5640" stroke-width="0.8"/>
<line x1="45.5" y1="208.0" x2="45.5" y2="200" stroke="#8e5640" stroke-width="0.8"/>
<line x1="51.5" y1="208.0" x2="51.5" y2="199" stroke="#8e5640" stroke-width="0.8"/>
<rect x="24.5" y="206.8" width="165.5" height="2.5" fill="#2e7d3e"/>
<rect x="24.0" y="205.2" width="36.0" height="5.6" fill="#2e7d3e"/>
<rect x="95.0" y="205.6" width="10.0" height="4.9" fill="#2e7d3e"/>
<polyline points="24.5,210.2 25.4,201.6 26.3,211.3 27.2,202.4 28.1,200.8 29.0,205.8 30.0,202.5 30.9,206.5 31.8,210.5 32.7,206.1 33.6,211.3 34.5,208.4 35.4,207.9 36.3,204.4 37.2,210.4 38.1,208.2 39.0,206.2 40.0,209.3 40.9,204.1 41.8,207.0 42.7,209.7 43.6,205.3 44.5,202.2 45.4,208.1 46.3,211.9 47.2,208.3 48.1,213.0 49.1,210.8 50.0,204.7 50.9,209.7 51.8,201.6 52.7,208.7 53.6,206.4 54.5,207.3 55.4,204.7 56.3,205.7 57.2,208.2 58.1,213.9 59.1,204.6 60.0,207.7 60.9,207.2 61.8,205.8 62.7,207.8 63.6,209.8 64.5,205.3 65.4,209.2 66.3,208.4 67.2,205.3 68.1,209.6 69.1,212.6 70.0,208.2 70.9,207.1 71.8,208.9 72.7,206.3 73.6,207.1 74.5,208.3 75.4,207.1 76.3,205.8 77.2,202.2 78.2,206.2 79.1,209.9 80.0,205.7 80.9,206.1 81.8,204.0 82.7,207.6 83.6,208.8 84.5,209.8 85.4,207.1 86.3,205.3 87.2,209.1 88.2,209.6 89.1,208.6 90.0,203.2 90.9,205.8 91.8,208.1 92.7,209.8 93.6,206.1 94.5,210.2 95.4,207.0 96.3,205.5 97.2,211.4 98.2,209.5 99.1,205.9 100.0,208.9 100.9,202.8 101.8,209.4 102.7,211.0 103.6,207.7 104.5,212.9 105.4,208.2 106.3,208.3 107.2,210.3 108.2,209.7 109.1,205.9 110.0,206.8 110.9,206.6 111.8,209.8 112.7,212.0 113.6,201.3 114.5,208.9 115.4,208.9 116.3,207.3 117.3,209.7 118.2,202.8 119.1,202.5 120.0,212.5 120.9,207.1 121.8,205.5 122.7,206.0 123.6,208.6 124.5,207.5 125.4,209.0 126.3,209.4 127.3,210.7 128.2,210.0 129.1,207.6 130.0,210.2 130.9,208.1 131.8,210.2 132.7,205.6 133.6,210.2 134.5,208.5 135.4,206.9 136.3,205.6 137.3,202.7 138.2,205.5 139.1,208.1 140.0,206.9 140.9,206.5 141.8,214.6 142.7,210.0 143.6,209.7 144.5,209.4 145.4,210.2 146.4,212.1 147.3,210.5 148.2,203.4 149.1,205.6 150.0,209.7 150.9,207.2 151.8,205.5 152.7,212.7 153.6,210.4 154.5,207.8 155.4,201.5 156.4,206.3 157.3,207.2 158.2,206.2 159.1,210.7 160.0,212.3 160.9,205.5 161.8,212.7 162.7,210.0 163.6,206.0 164.5,210.4 165.4,205.7 166.4,206.9 167.3,206.3 168.2,202.3 169.1,207.3 170.0,210.1 170.9,206.5 171.8,210.3 172.7,206.8 173.6,205.7 174.5,207.7 175.5,208.2 176.4,212.6 177.3,209.7 178.2,202.0 179.1,206.8 180.0,206.3 180.9,210.7 181.8,202.0 182.7,210.4 183.6,206.2 184.5,208.8 185.5,208.9 186.4,208.1 187.3,209.9 188.2,208.1 189.1,206.2 190.0,206.2" fill="none" stroke="#2e7d3e" stroke-width="0.8" stroke-linejoin="round" marker-start="url(#m2)" marker-mid="url(#m2)" marker-end="url(#m2)"/>
<circle cx="42.5" cy="246" r="1.25" fill="#5a3424"/>
<circle cx="44.5" cy="192.5" r="1.25" fill="#5a3424"/>
<circle cx="47.5" cy="188.7" r="1.25" fill="#5a3424"/>
<circle cx="50.5" cy="189.5" r="1.25" fill="#5a3424"/>
<circle cx="45.5" cy="222.5" r="1.25" fill="#5a3424"/>
<circle cx="48.5" cy="222.5" r="1.25" fill="#5a3424"/>
<circle cx="53.5" cy="222" r="1.25" fill="#5a3424"/>
<circle cx="67.5" cy="196" r="1.25" fill="#5a3424"/>
<circle cx="71.5" cy="220" r="1.25" fill="#5a3424"/>
<circle cx="83.5" cy="195.5" r="1.25" fill="#5a3424"/>
<circle cx="83.5" cy="229.5" r="1.25" fill="#5a3424"/>
<circle cx="85.5" cy="200" r="1.25" fill="#5a3424"/>
<circle cx="98.5" cy="150" r="1.25" fill="#5a3424"/>
<circle cx="98.5" cy="230" r="1.25" fill="#5a3424"/>
<circle cx="103.5" cy="190" r="1.25" fill="#5a3424"/>
<circle cx="103.5" cy="225" r="1.25" fill="#5a3424"/>
<circle cx="114.5" cy="219" r="1.25" fill="#5a3424"/>
<circle cx="119.5" cy="234" r="1.25" fill="#5a3424"/>
<circle cx="145.5" cy="191" r="1.25" fill="#5a3424"/>
<circle cx="146.5" cy="218" r="1.25" fill="#5a3424"/>
<circle cx="176.5" cy="222" r="1.25" fill="#5a3424"/>
<circle cx="183.5" cy="223" r="1.25" fill="#5a3424"/>
<circle cx="30.5" cy="215" r="1.25" fill="#383838"/>
<circle cx="36.5" cy="198" r="1.25" fill="#383838"/>
<circle cx="60.5" cy="210" r="1.25" fill="#383838"/>
<circle cx="130.5" cy="204" r="1.25" fill="#383838"/>
<circle cx="160.5" cy="198" r="1.25" fill="#383838"/>
<circle cx="165.5" cy="199" r="1.25" fill="#383838"/>
<circle cx="170.5" cy="205" r="1.25" fill="#383838"/>
<circle cx="43.5" cy="215" r="1.25" fill="#5a3424"/>
<circle cx="44.5" cy="218" r="1.25" fill="#5a3424"/>
<circle cx="46.5" cy="214" r="1.25" fill="#5a3424"/>
<circle cx="47.5" cy="220" r="1.25" fill="#5a3424"/>
<circle cx="49.5" cy="216" r="1.25" fill="#5a3424"/>
<circle cx="50.5" cy="213" r="1.25" fill="#5a3424"/>
<circle cx="52.5" cy="218" r="1.25" fill="#5a3424"/>
<circle cx="54.5" cy="216" r="1.25" fill="#5a3424"/>
<circle cx="45.5" cy="200" r="1.25" fill="#5a3424"/>
<circle cx="51.5" cy="199" r="1.25" fill="#5a3424"/>
<line x1="184" y1="149" x2="184" y2="246" stroke="#5a62b0" stroke-width="0.9" stroke-dasharray="1.8,1.2"/>
<line x1="188.5" y1="149" x2="188.5" y2="246" stroke="#5a62b0" stroke-width="0.9" stroke-dasharray="1.8,1.2"/>
<rect x="18.2" y="145.5" width="178.8" height="106.1" fill="none" stroke="#7a7a7a" stroke-width="1.0"/>
<line x1="16.2" y1="147.3" x2="18.2" y2="147.3" stroke="#444" stroke-width="0.6"/>
<text x="15.6" y="148.5" font-size="3.4" text-anchor="end" fill="#1a1a1a">2.5</text>
<line x1="16.2" y1="159.4" x2="18.2" y2="159.4" stroke="#444" stroke-width="0.6"/>
<text x="15.6" y="160.6" font-size="3.4" text-anchor="end" fill="#1a1a1a">2.0</text>
<line x1="16.2" y1="171.5" x2="18.2" y2="171.5" stroke="#444" stroke-width="0.6"/>
<text x="15.6" y="172.7" font-size="3.4" text-anchor="end" fill="#1a1a1a">1.5</text>
<line x1="16.2" y1="183.5" x2="18.2" y2="183.5" stroke="#444" stroke-width="0.6"/>
<text x="15.6" y="184.7" font-size="3.4" text-anchor="end" fill="#1a1a1a">1.0</text>
<line x1="16.2" y1="195.6" x2="18.2" y2="195.6" stroke="#444" stroke-width="0.6"/>
<text x="15.6" y="196.8" font-size="3.4" text-anchor="end" fill="#1a1a1a">0.5</text>
<line x1="16.2" y1="207.6" x2="18.2" y2="207.6" stroke="#444" stroke-width="0.6"/>
<text x="15.6" y="208.8" font-size="3.4" text-anchor="end" fill="#1a1a1a">0.0</text>
<line x1="16.2" y1="219.8" x2="18.2" y2="219.8" stroke="#444" stroke-width="0.6"/>
<text x="15.6" y="221.0" font-size="3.4" text-anchor="end" fill="#1a1a1a">−0.5</text>
<line x1="16.2" y1="231.8" x2="18.2" y2="231.8" stroke="#444" stroke-width="0.6"/>
<text x="15.6" y="233.0" font-size="3.4" text-anchor="end" fill="#1a1a1a">−1.0</text>
<line x1="16.2" y1="244" x2="18.2" y2="244" stroke="#444" stroke-width="0.6"/>
<text x="15.6" y="245.2" font-size="3.4" text-anchor="end" fill="#1a1a1a">−1.5</text>
<line x1="26.2" y1="251.6" x2="26.2" y2="253.2" stroke="#444" stroke-width="0.5"/>
<text transform="translate(27.4,254.6) rotate(-90)" font-size="3.6" text-anchor="end" class="xl">08-25</text>
<line x1="35.2" y1="251.6" x2="35.2" y2="253.2" stroke="#444" stroke-width="0.5"/>
<text transform="translate(36.4,254.6) rotate(-90)" font-size="3.6" text-anchor="end" class="xl">08-25</text>
<line x1="42" y1="251.6" x2="42" y2="253.2" stroke="#444" stroke-width="0.5"/>
<text transform="translate(43.2,254.6) rotate(-90)" font-size="3.6" text-anchor="end" class="xl">08-25</text>
<line x1="51" y1="251.6" x2="51" y2="253.2" stroke="#444" stroke-width="0.5"/>
<text transform="translate(52.2,254.6) rotate(-90)" font-size="3.6" text-anchor="end" class="xl">08-25</text>
<line x1="58.5" y1="251.6" x2="58.5" y2="253.2" stroke="#444" stroke-width="0.5"/>
<text transform="translate(59.7,254.6) rotate(-90)" font-size="3.6" text-anchor="end" class="xl">08-25</text>
<line x1="63.7" y1="251.6" x2="63.7" y2="253.2" stroke="#444" stroke-width="0.5"/>
<text transform="translate(64.9,254.6) rotate(-90)" font-size="3.6" text-anchor="end" class="xl">08-25</text>
<line x1="70.5" y1="251.6" x2="70.5" y2="253.2" stroke="#444" stroke-width="0.5"/>
<text transform="translate(71.7,254.6) rotate(-90)" font-size="3.6" text-anchor="end" class="xl">08-25</text>
<line x1="77.5" y1="251.6" x2="77.5" y2="253.2" stroke="#444" stroke-width="0.5"/>
<text transform="translate(78.7,254.6) rotate(-90)" font-size="3.6" text-anchor="end" class="xl">08-25</text>
<line x1="84.2" y1="251.6" x2="84.2" y2="253.2" stroke="#444" stroke-width="0.5"/>
<text transform="translate(85.4,254.6) rotate(-90)" font-size="3.6" text-anchor="end" class="xl">08-25</text>
<line x1="91" y1="251.6" x2="91" y2="253.2" stroke="#444" stroke-width="0.5"/>
<text transform="translate(92.2,254.6) rotate(-90)" font-size="3.6" text-anchor="end" class="xl">08-25</text>
<line x1="100" y1="251.6" x2="100" y2="253.2" stroke="#444" stroke-width="0.5"/>
<text transform="translate(101.2,254.6) rotate(-90)" font-size="3.6" text-anchor="end" class="xl">08-25</text>
<line x1="106.7" y1="251.6" x2="106.7" y2="253.2" stroke="#444" stroke-width="0.5"/>
<text transform="translate(107.9,254.6) rotate(-90)" font-size="3.6" text-anchor="end" class="xl">08-25</text>
<line x1="113.5" y1="251.6" x2="113.5" y2="253.2" stroke="#444" stroke-width="0.5"/>
<text transform="translate(114.7,254.6) rotate(-90)" font-size="3.6" text-anchor="end" class="xl">08-25</text>
<line x1="121" y1="251.6" x2="121" y2="253.2" stroke="#444" stroke-width="0.5"/>
<text transform="translate(122.2,254.6) rotate(-90)" font-size="3.6" text-anchor="end" class="xl">08-25</text>
<line x1="127.5" y1="251.6" x2="127.5" y2="253.2" stroke="#444" stroke-width="0.5"/>
<text transform="translate(128.7,254.6) rotate(-90)" font-size="3.6" text-anchor="end" class="xl">08-25</text>
<line x1="134" y1="251.6" x2="134" y2="253.2" stroke="#444" stroke-width="0.5"/>
<text transform="translate(135.2,254.6) rotate(-90)" font-size="3.6" text-anchor="end" class="xl">08-25</text>
<line x1="141.5" y1="251.6" x2="141.5" y2="253.2" stroke="#444" stroke-width="0.5"/>
<text transform="translate(142.7,254.6) rotate(-90)" font-size="3.6" text-anchor="end" class="xl">08-25</text>
<line x1="147.5" y1="251.6" x2="147.5" y2="253.2" stroke="#444" stroke-width="0.5"/>
<text transform="translate(148.7,254.6) rotate(-90)" font-size="3.6" text-anchor="end" class="xl">08-25</text>
<line x1="153.5" y1="251.6" x2="153.5" y2="253.2" stroke="#444" stroke-width="0.5"/>
<text transform="translate(154.7,254.6) rotate(-90)" font-size="3.6" text-anchor="end" class="xl">08-25</text>
<line x1="161" y1="251.6" x2="161" y2="253.2" stroke="#444" stroke-width="0.5"/>
<text transform="translate(162.2,254.6) rotate(-90)" font-size="3.6" text-anchor="end" class="xl">08-25</text>
<line x1="167" y1="251.6" x2="167" y2="253.2" stroke="#444" stroke-width="0.5"/>
<text transform="translate(168.2,254.6) rotate(-90)" font-size="3.6" text-anchor="end" class="xl">08-25</text>
<line x1="173" y1="251.6" x2="173" y2="253.2" stroke="#444" stroke-width="0.5"/>
<text transform="translate(174.2,254.6) rotate(-90)" font-size="3.6" text-anchor="end" class="xl">08-25</text>
<line x1="179" y1="251.6" x2="179" y2="253.2" stroke="#444" stroke-width="0.5"/>
<text transform="translate(180.2,254.6) rotate(-90)" font-size="3.6" text-anchor="end" class="xl">08-25</text>
<line x1="185.8" y1="251.6" x2="185.8" y2="253.2" stroke="#444" stroke-width="0.5"/>
<text transform="translate(187.0,254.6) rotate(-90)" font-size="3.6" text-anchor="end" class="xl">08-25</text>
<line x1="183.5" y1="251.6" x2="183.5" y2="253.2" stroke="#444" stroke-width="0.5"/>
<text transform="translate(184.7,254.6) rotate(-90)" font-size="3.6" text-anchor="end" class="xl">08-25 16</text>
<line x1="188.5" y1="251.6" x2="188.5" y2="253.2" stroke="#444" stroke-width="0.5"/>
<text transform="translate(189.7,254.6) rotate(-90)" font-size="3.6" text-anchor="end" class="xl">08-25 16</text>
<text x="107.6" y="143.6" font-size="4.1" text-anchor="middle" fill="#1a1a1a">AVAX_2021-8-8 13.44</text>
<text x="107.6" y="272.8" font-size="3.6" text-anchor="middle" fill="#1a1a1a">datetime</text>
<text transform="translate(6.7,198.6) rotate(-90)" font-size="3.6" text-anchor="middle" fill="#1a1a1a">bin_volume</text>
<rect x="151.0" y="146.0" width="45.7" height="10.7" rx="0.8" fill="#fff" fill-opacity="0.85" stroke="#d4d4d4" stroke-width="0.4"/>
<line x1="152.5" y1="149.1" x2="159.0" y2="149.1" stroke="#5a62b0" stroke-width="0.6" stroke-dasharray="1.2,0.8"/>
<line x1="152.5" y1="153.9" x2="159.0" y2="153.9" stroke="#ebd08e" stroke-width="0.6" stroke-dasharray="1.2,0.8"/>
<text x="162.0" y="150.7" font-size="3.5" fill="#1a1a1a">2021-8-8 13.44</text>
<text x="162.0" y="155.4" font-size="3.5" fill="#1a1a1a">anomalous volumes</text>
</g>
<g>
<rect x="224" y="146.0" width="9" height="105.0" fill="#fef7fa"/>
<rect x="239" y="146.0" width="8" height="105.0" fill="#fef7fa"/>
<rect x="353" y="146.0" width="6" height="105.0" fill="#fef7fa"/>
<rect x="384" y="146.0" width="8" height="105.0" fill="#fef7fa"/>
<rect x="224.2" y="176.2" width="166.3" height="15.800000000000011" fill="#d9f6f1"/>
<line x1="224.2" y1="166.3" x2="390.5" y2="166.3" stroke="#ebd08e" stroke-width="1.0" stroke-dasharray="1.8,0.9"/>
<line x1="224.2" y1="196.5" x2="390.5" y2="196.5" stroke="#ebd08e" stroke-width="1.0" stroke-dasharray="1.8,0.9"/>
<line x1="226.5" y1="181.8" x2="226.5" y2="246.5" stroke="#8e5640" stroke-width="0.8"/>
<line x1="226.5" y1="181.8" x2="226.5" y2="161" stroke="#8e5640" stroke-width="0.8"/>
<line x1="230.5" y1="181.8" x2="230.5" y2="158.5" stroke="#8e5640" stroke-width="0.8"/>
<line x1="230.5" y1="181.8" x2="230.5" y2="202.5" stroke="#8e5640" stroke-width="0.8"/>
<line x1="242.5" y1="181.8" x2="242.5" y2="150.4" stroke="#8e5640" stroke-width="0.8"/>
<line x1="242.5" y1="181.8" x2="242.5" y2="208.9" stroke="#8e5640" stroke-width="0.8"/>
<line x1="225.5" y1="181.8" x2="225.5" y2="197" stroke="#8e5640" stroke-width="0.8"/>
<line x1="228.5" y1="181.8" x2="228.5" y2="193" stroke="#8e5640" stroke-width="0.8"/>
<line x1="227.5" y1="181.8" x2="227.5" y2="168" stroke="#8e5640" stroke-width="0.8"/>
<line x1="229.5" y1="181.8" x2="229.5" y2="166" stroke="#8e5640" stroke-width="0.8"/>
<line x1="242.5" y1="181.8" x2="242.5" y2="196" stroke="#8e5640" stroke-width="0.8"/>
<line x1="243.5" y1="181.8" x2="243.5" y2="202" stroke="#8e5640" stroke-width="0.8"/>
<line x1="241.5" y1="181.8" x2="241.5" y2="170" stroke="#8e5640" stroke-width="0.8"/>
<line x1="244.5" y1="181.8" x2="244.5" y2="175" stroke="#8e5640" stroke-width="0.8"/>
<line x1="244.5" y1="181.8" x2="244.5" y2="165" stroke="#8e5640" stroke-width="0.8"/>
<line x1="238.5" y1="181.8" x2="238.5" y2="190" stroke="#7e857c" stroke-width="0.8"/>
<line x1="267.5" y1="181.8" x2="267.5" y2="195" stroke="#7e857c" stroke-width="0.8"/>
<line x1="272.5" y1="181.8" x2="272.5" y2="199.5" stroke="#7e857c" stroke-width="0.8"/>
<line x1="276.5" y1="181.8" x2="276.5" y2="195" stroke="#7e857c" stroke-width="0.8"/>
<line x1="284.5" y1="181.8" x2="284.5" y2="173.2" stroke="#7e857c" stroke-width="0.8"/>
<line x1="295.5" y1="181.8" x2="295.5" y2="188" stroke="#7e857c" stroke-width="0.8"/>
<line x1="310.5" y1="181.8" x2="310.5" y2="164.4" stroke="#8e5640" stroke-width="0.8"/>
<line x1="312.5" y1="181.8" x2="312.5" y2="170.7" stroke="#7e857c" stroke-width="0.8"/>
<line x1="317.5" y1="181.8" x2="317.5" y2="162.6" stroke="#8e5640" stroke-width="0.8"/>
<line x1="314.5" y1="181.8" x2="314.5" y2="211.4" stroke="#8e5640" stroke-width="0.8"/>
<line x1="313.5" y1="181.8" x2="313.5" y2="203" stroke="#8e5640" stroke-width="0.8"/>
<line x1="316.5" y1="181.8" x2="316.5" y2="206" stroke="#8e5640" stroke-width="0.8"/>
<line x1="325.5" y1="181.8" x2="325.5" y2="196.7" stroke="#7e857c" stroke-width="0.8"/>
<line x1="335.5" y1="181.8" x2="335.5" y2="195" stroke="#7e857c" stroke-width="0.8"/>
<line x1="363.5" y1="181.8" x2="363.5" y2="197.4" stroke="#7e857c" stroke-width="0.8"/>
<line x1="356.5" y1="181.8" x2="356.5" y2="219" stroke="#8e5640" stroke-width="0.8"/>
<line x1="368.5" y1="181.8" x2="368.5" y2="149" stroke="#8e5640" stroke-width="0.8"/>
<line x1="368.5" y1="181.8" x2="368.5" y2="238" stroke="#8e5640" stroke-width="0.8"/>
<line x1="376.5" y1="181.8" x2="376.5" y2="200" stroke="#8e5640" stroke-width="0.8"/>
<line x1="383.5" y1="181.8" x2="383.5" y2="163" stroke="#8e5640" stroke-width="0.8"/>
<line x1="386.5" y1="181.8" x2="386.5" y2="158" stroke="#8e5640" stroke-width="0.8"/>
<line x1="388.5" y1="181.8" x2="388.5" y2="226" stroke="#8e5640" stroke-width="0.8"/>
<line x1="389.5" y1="181.8" x2="389.5" y2="160" stroke="#8e5640" stroke-width="0.8"/>
<rect x="385.5" y="161" width="3" height="64" fill="#b07050" fill-opacity="0.85"/>
<rect x="224.2" y="179.1" width="166.3" height="5.5" fill="#2e7d3e"/>
<rect x="224.0" y="176.2" width="10.0" height="11.2" fill="#2e7d3e"/>
<rect x="234.0" y="178.3" width="6.0" height="7.0" fill="#2e7d3e"/>
<rect x="240.0" y="177.6" width="7.0" height="8.4" fill="#2e7d3e"/>
<rect x="303.0" y="178.0" width="17.0" height="7.7" fill="#2e7d3e"/>
<rect x="340.0" y="178.7" width="15.0" height="6.3" fill="#2e7d3e"/>
<rect x="378.0" y="177.6" width="13.0" height="8.4" fill="#2e7d3e"/>
<polyline points="224.2,177.6 224.9,186.2 225.6,186.5 226.4,181.6 227.1,183.1 227.8,174.4 228.5,185.2 229.2,187.8 229.9,176.2 230.7,171.1 231.4,178.0 232.1,175.0 232.8,182.9 233.5,186.5 234.2,178.3 235.0,177.2 235.7,183.0 236.4,179.4 237.1,177.7 237.8,178.5 238.5,178.4 239.3,185.1 240.0,177.4 240.7,180.2 241.4,187.4 242.1,171.8 242.8,177.5 243.6,184.7 244.3,171.2 245.0,180.5 245.7,180.9 246.4,170.8 247.1,183.4 247.9,180.1 248.6,180.0 249.3,184.8 250.0,180.7 250.7,182.6 251.4,174.7 252.2,174.5 252.9,182.4 253.6,181.5 254.3,184.2 255.0,183.8 255.7,180.7 256.5,182.1 257.2,179.7 257.9,181.6 258.6,181.4 259.3,183.1 260.0,179.7 260.8,178.8 261.5,180.8 262.2,178.4 262.9,180.1 263.6,184.8 264.3,180.2 265.1,179.4 265.8,180.8 266.5,183.4 267.2,178.4 267.9,181.0 268.6,187.6 269.4,181.9 270.1,176.3 270.8,174.9 271.5,175.6 272.2,179.3 272.9,180.1 273.7,183.0 274.4,179.7 275.1,183.3 275.8,181.0 276.5,179.9 277.2,180.7 278.0,178.6 278.7,188.6 279.4,185.1 280.1,183.0 280.8,179.8 281.5,183.0 282.3,184.4 283.0,182.7 283.7,175.7 284.4,176.0 285.1,180.3 285.8,181.1 286.6,179.5 287.3,180.0 288.0,175.6 288.7,182.4 289.4,182.2 290.1,178.5 290.9,180.9 291.6,177.1 292.3,182.4 293.0,180.6 293.7,178.5 294.4,184.5 295.2,180.1 295.9,179.6 296.6,182.6 297.3,180.8 298.0,184.9 298.7,182.7 299.5,181.2 300.2,180.2 300.9,184.5 301.6,184.7 302.3,175.3 303.0,180.3 303.8,177.9 304.5,178.8 305.2,178.9 305.9,189.9 306.6,181.7 307.4,182.3 308.1,182.5 308.8,187.0 309.5,180.1 310.2,179.7 310.9,183.9 311.7,186.9 312.4,178.1 313.1,181.7 313.8,180.4 314.5,184.5 315.2,178.9 316.0,179.9 316.7,182.0 317.4,177.0 318.1,172.5 318.8,172.2 319.5,178.1 320.3,184.4 321.0,175.3 321.7,181.0 322.4,180.1 323.1,180.6 323.8,183.6 324.6,184.1 325.3,181.2 326.0,182.7 326.7,183.9 327.4,180.9 328.1,179.9 328.9,178.4 329.6,184.9 330.3,179.2 331.0,181.2 331.7,181.1 332.4,185.2 333.2,186.8 333.9,174.4 334.6,179.1 335.3,178.5 336.0,181.7 336.7,180.5 337.5,184.2 338.2,181.0 338.9,183.7 339.6,181.0 340.3,182.2 341.0,178.6 341.8,178.3 342.5,179.6 343.2,178.4 343.9,177.5 344.6,178.6 345.3,179.8 346.1,181.6 346.8,179.6 347.5,172.7 348.2,178.0 348.9,181.7 349.6,179.1 350.4,181.7 351.1,184.6 351.8,177.8 352.5,183.2 353.2,179.8 353.9,185.1 354.7,181.3 355.4,183.4 356.1,178.5 356.8,179.1 357.5,174.3 358.2,181.9 359.0,173.5 359.7,189.5 360.4,183.4 361.1,183.9 361.8,183.7 362.5,179.0 363.3,181.1 364.0,180.1 364.7,178.5 365.4,179.9 366.1,180.9 366.8,184.0 367.6,182.8 368.3,180.3 369.0,180.6 369.7,174.3 370.4,183.5 371.1,183.1 371.9,179.0 372.6,180.8 373.3,178.4 374.0,181.1 374.7,182.1 375.4,179.7 376.2,180.5 376.9,179.1 377.6,181.3 378.3,178.4 379.0,184.3 379.7,179.1 380.5,187.2 381.2,178.0 381.9,187.7 382.6,183.4 383.3,183.5 384.0,183.2 384.8,186.1 385.5,181.9 386.2,177.2 386.9,184.1 387.6,183.8 388.3,180.4 389.1,183.0 389.8,182.0 390.5,190.6" fill="none" stroke="#2e7d3e" stroke-width="0.8" stroke-linejoin="round" marker-start="url(#m3)" marker-mid="url(#m3)" marker-end="url(#m3)"/>
<circle cx="226.5" cy="246.5" r="1.25" fill="#5a3424"/>
<circle cx="226.5" cy="161" r="1.25" fill="#5a3424"/>
<circle cx="230.5" cy="158.5" r="1.25" fill="#5a3424"/>
<circle cx="230.5" cy="202.5" r="1.25" fill="#5a3424"/>
<circle cx="242.5" cy="150.4" r="1.25" fill="#5a3424"/>
<circle cx="242.5" cy="208.9" r="1.25" fill="#5a3424"/>
<circle cx="225.5" cy="197" r="1.25" fill="#5a3424"/>
<circle cx="228.5" cy="193" r="1.25" fill="#5a3424"/>
<circle cx="227.5" cy="168" r="1.25" fill="#5a3424"/>
<circle cx="229.5" cy="166" r="1.25" fill="#5a3424"/>
<circle cx="242.5" cy="196" r="1.25" fill="#5a3424"/>
<circle cx="243.5" cy="202" r="1.25" fill="#5a3424"/>
<circle cx="241.5" cy="170" r="1.25" fill="#5a3424"/>
<circle cx="244.5" cy="175" r="1.25" fill="#5a3424"/>
<circle cx="244.5" cy="165" r="1.25" fill="#5a3424"/>
<circle cx="238.5" cy="190" r="1.25" fill="#383838"/>
<circle cx="267.5" cy="195" r="1.25" fill="#383838"/>
<circle cx="272.5" cy="199.5" r="1.25" fill="#383838"/>
<circle cx="276.5" cy="195" r="1.25" fill="#383838"/>
<circle cx="284.5" cy="173.2" r="1.25" fill="#383838"/>
<circle cx="295.5" cy="188" r="1.25" fill="#383838"/>
<circle cx="310.5" cy="164.4" r="1.25" fill="#5a3424"/>
<circle cx="312.5" cy="170.7" r="1.25" fill="#383838"/>
<circle cx="317.5" cy="162.6" r="1.25" fill="#5a3424"/>
<circle cx="314.5" cy="211.4" r="1.25" fill="#5a3424"/>
<circle cx="313.5" cy="203" r="1.25" fill="#5a3424"/>
<circle cx="316.5" cy="206" r="1.25" fill="#5a3424"/>
<circle cx="325.5" cy="196.7" r="1.25" fill="#383838"/>
<circle cx="335.5" cy="195" r="1.25" fill="#383838"/>
<circle cx="363.5" cy="197.4" r="1.25" fill="#383838"/>
<circle cx="356.5" cy="219" r="1.25" fill="#5a3424"/>
<circle cx="368.5" cy="149" r="1.25" fill="#5a3424"/>
<circle cx="368.5" cy="238" r="1.25" fill="#5a3424"/>
<circle cx="376.5" cy="200" r="1.25" fill="#5a3424"/>
<circle cx="383.5" cy="163" r="1.25" fill="#5a3424"/>
<circle cx="386.5" cy="158" r="1.25" fill="#5a3424"/>
<circle cx="388.5" cy="226" r="1.25" fill="#5a3424"/>
<circle cx="389.5" cy="160" r="1.25" fill="#5a3424"/>
<line x1="381" y1="149" x2="381" y2="246.5" stroke="#5a62b0" stroke-width="0.9" stroke-dasharray="1.8,1.2"/>
<line x1="387.8" y1="149" x2="387.8" y2="246.5" stroke="#5a62b0" stroke-width="0.9" stroke-dasharray="1.8,1.2"/>
<rect x="218.4" y="145.5" width="177.6" height="106.0" fill="none" stroke="#7a7a7a" stroke-width="1.0"/>
<line x1="216.4" y1="146.5" x2="218.4" y2="146.5" stroke="#444" stroke-width="0.6"/>
<text x="215.8" y="147.7" font-size="3.4" text-anchor="end" fill="#1a1a1a">10</text>
<line x1="216.4" y1="163.8" x2="218.4" y2="163.8" stroke="#444" stroke-width="0.6"/>
<text x="215.8" y="165.0" font-size="3.4" text-anchor="end" fill="#1a1a1a">5</text>
<line x1="216.4" y1="181" x2="218.4" y2="181" stroke="#444" stroke-width="0.6"/>
<text x="215.8" y="182.2" font-size="3.4" text-anchor="end" fill="#1a1a1a">0</text>
<line x1="216.4" y1="198.3" x2="218.4" y2="198.3" stroke="#444" stroke-width="0.6"/>
<text x="215.8" y="199.5" font-size="3.4" text-anchor="end" fill="#1a1a1a">−5</text>
<line x1="216.4" y1="215.7" x2="218.4" y2="215.7" stroke="#444" stroke-width="0.6"/>
<text x="215.8" y="216.9" font-size="3.4" text-anchor="end" fill="#1a1a1a">−10</text>
<line x1="216.4" y1="233" x2="218.4" y2="233" stroke="#444" stroke-width="0.6"/>
<text x="215.8" y="234.2" font-size="3.4" text-anchor="end" fill="#1a1a1a">−15</text>
<line x1="216.4" y1="250.5" x2="218.4" y2="250.5" stroke="#444" stroke-width="0.6"/>
<text x="215.8" y="251.7" font-size="3.4" text-anchor="end" fill="#1a1a1a">−20</text>
<line x1="224.7" y1="251.5" x2="224.7" y2="253.1" stroke="#444" stroke-width="0.5"/>
<text transform="translate(225.9,254.5) rotate(-90)" font-size="3.6" text-anchor="end" class="xl">08-25</text>
<line x1="230" y1="251.5" x2="230" y2="253.1" stroke="#444" stroke-width="0.5"/>
<text transform="translate(231.2,254.5) rotate(-90)" font-size="3.6" text-anchor="end" class="xl">08-25</text>
<line x1="237.2" y1="251.5" x2="237.2" y2="253.1" stroke="#444" stroke-width="0.5"/>
<text transform="translate(238.4,254.5) rotate(-90)" font-size="3.6" text-anchor="end" class="xl">08-25</text>
<line x1="243.5" y1="251.5" x2="243.5" y2="253.1" stroke="#444" stroke-width="0.5"/>
<text transform="translate(244.7,254.5) rotate(-90)" font-size="3.6" text-anchor="end" class="xl">08-25</text>
<line x1="250.2" y1="251.5" x2="250.2" y2="253.1" stroke="#444" stroke-width="0.5"/>
<text transform="translate(251.4,254.5) rotate(-90)" font-size="3.6" text-anchor="end" class="xl">08-25</text>
<line x1="257" y1="251.5" x2="257" y2="253.1" stroke="#444" stroke-width="0.5"/>
<text transform="translate(258.2,254.5) rotate(-90)" font-size="3.6" text-anchor="end" class="xl">08-25</text>
<line x1="263.3" y1="251.5" x2="263.3" y2="253.1" stroke="#444" stroke-width="0.5"/>
<text transform="translate(264.5,254.5) rotate(-90)" font-size="3.6" text-anchor="end" class="xl">08-25</text>
<line x1="270.5" y1="251.5" x2="270.5" y2="253.1" stroke="#444" stroke-width="0.5"/>
<text transform="translate(271.7,254.5) rotate(-90)" font-size="3.6" text-anchor="end" class="xl">08-25</text>
<line x1="276.7" y1="251.5" x2="276.7" y2="253.1" stroke="#444" stroke-width="0.5"/>
<text transform="translate(277.9,254.5) rotate(-90)" font-size="3.6" text-anchor="end" class="xl">08-25</text>
<line x1="283.5" y1="251.5" x2="283.5" y2="253.1" stroke="#444" stroke-width="0.5"/>
<text transform="translate(284.7,254.5) rotate(-90)" font-size="3.6" text-anchor="end" class="xl">08-25</text>
<line x1="290.7" y1="251.5" x2="290.7" y2="253.1" stroke="#444" stroke-width="0.5"/>
<text transform="translate(291.9,254.5) rotate(-90)" font-size="3.6" text-anchor="end" class="xl">08-25</text>
<line x1="297.7" y1="251.5" x2="297.7" y2="253.1" stroke="#444" stroke-width="0.5"/>
<text transform="translate(298.9,254.5) rotate(-90)" font-size="3.6" text-anchor="end" class="xl">08-25</text>
<line x1="304.5" y1="251.5" x2="304.5" y2="253.1" stroke="#444" stroke-width="0.5"/>
<text transform="translate(305.7,254.5) rotate(-90)" font-size="3.6" text-anchor="end" class="xl">08-25</text>
<line x1="311.2" y1="251.5" x2="311.2" y2="253.1" stroke="#444" stroke-width="0.5"/>
<text transform="translate(312.4,254.5) rotate(-90)" font-size="3.6" text-anchor="end" class="xl">08-25</text>
<line x1="318" y1="251.5" x2="318" y2="253.1" stroke="#444" stroke-width="0.5"/>
<text transform="translate(319.2,254.5) rotate(-90)" font-size="3.6" text-anchor="end" class="xl">08-25</text>
<line x1="324.7" y1="251.5" x2="324.7" y2="253.1" stroke="#444" stroke-width="0.5"/>
<text transform="translate(325.9,254.5) rotate(-90)" font-size="3.6" text-anchor="end" class="xl">08-25</text>
<line x1="331" y1="251.5" x2="331" y2="253.1" stroke="#444" stroke-width="0.5"/>
<text transform="translate(332.2,254.5) rotate(-90)" font-size="3.6" text-anchor="end" class="xl">08-25</text>
<line x1="337.7" y1="251.5" x2="337.7" y2="253.1" stroke="#444" stroke-width="0.5"/>
<text transform="translate(338.9,254.5) rotate(-90)" font-size="3.6" text-anchor="end" class="xl">08-25</text>
<line x1="344.5" y1="251.5" x2="344.5" y2="253.1" stroke="#444" stroke-width="0.5"/>
<text transform="translate(345.7,254.5) rotate(-90)" font-size="3.6" text-anchor="end" class="xl">08-25</text>
<line x1="351.2" y1="251.5" x2="351.2" y2="253.1" stroke="#444" stroke-width="0.5"/>
<text transform="translate(352.4,254.5) rotate(-90)" font-size="3.6" text-anchor="end" class="xl">08-25</text>
<line x1="358" y1="251.5" x2="358" y2="253.1" stroke="#444" stroke-width="0.5"/>
<text transform="translate(359.2,254.5) rotate(-90)" font-size="3.6" text-anchor="end" class="xl">08-25</text>
<line x1="364.7" y1="251.5" x2="364.7" y2="253.1" stroke="#444" stroke-width="0.5"/>
<text transform="translate(365.9,254.5) rotate(-90)" font-size="3.6" text-anchor="end" class="xl">08-25</text>
<line x1="371.5" y1="251.5" x2="371.5" y2="253.1" stroke="#444" stroke-width="0.5"/>
<text transform="translate(372.7,254.5) rotate(-90)" font-size="3.6" text-anchor="end" class="xl">08-25</text>
<line x1="378.3" y1="251.5" x2="378.3" y2="253.1" stroke="#444" stroke-width="0.5"/>
<text transform="translate(379.5,254.5) rotate(-90)" font-size="3.6" text-anchor="end" class="xl">08-25</text>
<line x1="385" y1="251.5" x2="385" y2="253.1" stroke="#444" stroke-width="0.5"/>
<text transform="translate(386.2,254.5) rotate(-90)" font-size="3.6" text-anchor="end" class="xl">08-25</text>
<line x1="380.5" y1="251.5" x2="380.5" y2="253.1" stroke="#444" stroke-width="0.5"/>
<text transform="translate(381.7,254.5) rotate(-90)" font-size="3.6" text-anchor="end" class="xl">08-25 16</text>
<line x1="387.3" y1="251.5" x2="387.3" y2="253.1" stroke="#444" stroke-width="0.5"/>
<text transform="translate(388.5,254.5) rotate(-90)" font-size="3.6" text-anchor="end" class="xl">08-25 16</text>
<text x="307.2" y="143.6" font-size="4.1" text-anchor="middle" fill="#1a1a1a">AVAX_2021-8-10 12.16</text>
<text x="307.2" y="272.7" font-size="3.6" text-anchor="middle" fill="#1a1a1a">datetime</text>
<text transform="translate(207.8,198.5) rotate(-90)" font-size="3.6" text-anchor="middle" fill="#1a1a1a">bin_volume</text>
<rect x="349.6" y="239.4" width="43.3" height="10.2" rx="0.8" fill="#fff" fill-opacity="0.85" stroke="#d4d4d4" stroke-width="0.4"/>
<line x1="351.1" y1="242.4" x2="357.6" y2="242.4" stroke="#5a62b0" stroke-width="0.6" stroke-dasharray="1.2,0.8"/>
<line x1="351.1" y1="246.9" x2="357.6" y2="246.9" stroke="#ebd08e" stroke-width="0.6" stroke-dasharray="1.2,0.8"/>
<text x="360.6" y="244.0" font-size="3.5" fill="#1a1a1a">2021-8-10 12.16</text>
<text x="360.6" y="248.4" font-size="3.5" fill="#1a1a1a">anomalous volumes</text>
</g>
<g>
<rect x="26" y="284.0" width="4" height="105.0" fill="#fef7fa"/>
<rect x="53" y="284.0" width="5" height="105.0" fill="#fef7fa"/>
<rect x="66" y="284.0" width="6" height="105.0" fill="#fef7fa"/>
<rect x="72" y="284.0" width="6" height="105.0" fill="#fef7fa"/>
<rect x="90" y="284.0" width="3" height="105.0" fill="#fef7fa"/>
<rect x="120" y="284.0" width="8" height="105.0" fill="#fef7fa"/>
<rect x="176" y="284.0" width="6" height="105.0" fill="#fef7fa"/>
<rect x="184" y="284.0" width="6" height="105.0" fill="#fef7fa"/>
<rect x="24.0" y="325.5" width="166.0" height="10.5" fill="#d9f6f1"/>
<line x1="24.0" y1="323.3" x2="190.0" y2="323.3" stroke="#ebd08e" stroke-width="1.0" stroke-dasharray="1.8,0.9"/>
<line x1="24.0" y1="338.8" x2="190.0" y2="338.8" stroke="#ebd08e" stroke-width="1.0" stroke-dasharray="1.8,0.9"/>
<line x1="27.5" y1="331.0" x2="27.5" y2="311" stroke="#8e5640" stroke-width="0.8"/>
<line x1="27.5" y1="331.0" x2="27.5" y2="340" stroke="#8e5640" stroke-width="0.8"/>
<line x1="55.5" y1="331.0" x2="55.5" y2="288.3" stroke="#8e5640" stroke-width="0.8"/>
<line x1="55.5" y1="331.0" x2="55.5" y2="342" stroke="#8e5640" stroke-width="0.8"/>
<line x1="68.5" y1="331.0" x2="68.5" y2="313" stroke="#8e5640" stroke-width="0.8"/>
<line x1="68.5" y1="331.0" x2="68.5" y2="342" stroke="#8e5640" stroke-width="0.8"/>
<line x1="73.5" y1="331.0" x2="73.5" y2="344" stroke="#8e5640" stroke-width="0.8"/>
<line x1="75.5" y1="331.0" x2="75.5" y2="352" stroke="#8e5640" stroke-width="0.8"/>
<line x1="91.5" y1="331.0" x2="91.5" y2="311" stroke="#8e5640" stroke-width="0.8"/>
<line x1="93.5" y1="331.0" x2="93.5" y2="312" stroke="#8e5640" stroke-width="0.8"/>
<line x1="90.5" y1="331.0" x2="90.5" y2="340" stroke="#8e5640" stroke-width="0.8"/>
<line x1="117.5" y1="331.0" x2="117.5" y2="317.7" stroke="#8e5640" stroke-width="0.8"/>
<line x1="120.5" y1="331.0" x2="120.5" y2="308" stroke="#8e5640" stroke-width="0.8"/>
<line x1="121.5" y1="331.0" x2="121.5" y2="343" stroke="#8e5640" stroke-width="0.8"/>
<line x1="112.5" y1="331.0" x2="112.5" y2="342.4" stroke="#8e5640" stroke-width="0.8"/>
<line x1="119.5" y1="331.0" x2="119.5" y2="339" stroke="#8e5640" stroke-width="0.8"/>
<line x1="133.5" y1="331.0" x2="133.5" y2="326" stroke="#7e857c" stroke-width="0.8"/>
<line x1="137.5" y1="331.0" x2="137.5" y2="334" stroke="#7e857c" stroke-width="0.8"/>
<line x1="150.5" y1="331.0" x2="150.5" y2="326" stroke="#7e857c" stroke-width="0.8"/>
<line x1="162.5" y1="331.0" x2="162.5" y2="337" stroke="#7e857c" stroke-width="0.8"/>
<line x1="176.5" y1="331.0" x2="176.5" y2="341" stroke="#8e5640" stroke-width="0.8"/>
<line x1="180.5" y1="331.0" x2="180.5" y2="321" stroke="#8e5640" stroke-width="0.8"/>
<line x1="183.5" y1="331.0" x2="183.5" y2="338" stroke="#8e5640" stroke-width="0.8"/>
<line x1="186.5" y1="331.0" x2="186.5" y2="288" stroke="#6a4a6a" stroke-width="0.8"/>
<line x1="186.5" y1="331.0" x2="186.5" y2="384.6" stroke="#6a4a6a" stroke-width="0.8"/>
<line x1="33.5" y1="331.0" x2="33.5" y2="329" stroke="#7e857c" stroke-width="0.8"/>
<line x1="40.5" y1="331.0" x2="40.5" y2="336" stroke="#7e857c" stroke-width="0.8"/>
<line x1="44.5" y1="331.0" x2="44.5" y2="336" stroke="#7e857c" stroke-width="0.8"/>
<line x1="84.5" y1="331.0" x2="84.5" y2="327" stroke="#7e857c" stroke-width="0.8"/>
<rect x="24.0" y="329.2" width="166.0" height="3.5" fill="#2d8542"/>
<rect x="24.0" y="328.3" width="74.0" height="5.4" fill="#2d8542"/>
<rect x="170.0" y="327.6" width="20.0" height="6.8" fill="#2d8542"/>
<polyline points="24.0,331.7 24.9,328.5 25.8,334.5 26.7,329.7 27.6,334.5 28.6,333.6 29.5,334.5 30.4,329.1 31.3,332.1 32.2,333.4 33.1,331.1 34.0,327.9 34.9,332.5 35.9,333.2 36.8,331.3 37.7,328.8 38.6,332.0 39.5,337.6 40.4,329.1 41.3,333.6 42.2,331.4 43.2,333.1 44.1,330.0 45.0,327.7 45.9,333.6 46.8,328.2 47.7,330.2 48.6,331.8 49.5,327.9 50.5,328.9 51.4,333.7 52.3,328.8 53.2,330.5 54.1,325.6 55.0,329.4 55.9,332.4 56.8,328.3 57.7,330.8 58.7,328.2 59.6,331.8 60.5,328.8 61.4,332.4 62.3,330.0 63.2,330.3 64.1,331.9 65.0,333.3 66.0,330.7 66.9,334.2 67.8,332.5 68.7,331.6 69.6,333.7 70.5,333.6 71.4,330.7 72.3,330.2 73.3,331.7 74.2,327.9 75.1,329.4 76.0,334.3 76.9,332.4 77.8,329.2 78.7,328.4 79.6,329.2 80.5,329.9 81.5,333.5 82.4,331.3 83.3,335.8 84.2,330.1 85.1,332.2 86.0,333.9 86.9,327.6 87.8,330.8 88.8,330.7 89.7,332.2 90.6,334.4 91.5,334.5 92.4,333.4 93.3,332.4 94.2,327.9 95.1,330.3 96.1,329.0 97.0,328.9 97.9,328.4 98.8,332.1 99.7,326.1 100.6,332.1 101.5,332.4 102.4,332.2 103.4,330.9 104.3,336.6 105.2,328.9 106.1,331.2 107.0,329.3 107.9,330.1 108.8,329.3 109.7,329.3 110.6,335.0 111.6,329.9 112.5,329.0 113.4,330.8 114.3,330.8 115.2,329.2 116.1,329.4 117.0,331.1 117.9,331.5 118.9,333.1 119.8,328.8 120.7,332.4 121.6,332.0 122.5,331.1 123.4,327.0 124.3,331.6 125.2,329.0 126.2,329.1 127.1,329.3 128.0,330.2 128.9,331.7 129.8,333.0 130.7,331.0 131.6,330.5 132.5,332.1 133.5,330.4 134.4,330.9 135.3,330.7 136.2,329.0 137.1,329.0 138.0,331.2 138.9,329.8 139.8,327.0 140.7,329.8 141.7,330.9 142.6,325.3 143.5,336.7 144.4,331.4 145.3,330.1 146.2,331.4 147.1,331.0 148.0,332.1 149.0,327.1 149.9,332.3 150.8,332.6 151.7,330.0 152.6,329.1 153.5,332.5 154.4,330.2 155.3,332.3 156.3,329.0 157.2,329.0 158.1,331.2 159.0,331.6 159.9,336.1 160.8,328.8 161.7,330.6 162.6,333.2 163.5,329.1 164.5,330.7 165.4,330.5 166.3,330.7 167.2,330.2 168.1,329.1 169.0,332.5 169.9,331.2 170.8,327.6 171.8,335.1 172.7,334.8 173.6,330.2 174.5,334.1 175.4,334.4 176.3,326.8 177.2,329.9 178.1,334.9 179.1,332.7 180.0,333.5 180.9,333.2 181.8,331.8 182.7,329.6 183.6,329.6 184.5,331.2 185.4,331.7 186.4,329.7 187.3,330.8 188.2,329.5 189.1,328.6 190.0,333.1" fill="none" stroke="#2d8542" stroke-width="0.8" stroke-linejoin="round" marker-start="url(#m4)" marker-mid="url(#m4)" marker-end="url(#m4)"/>
<circle cx="27.5" cy="311" r="1.25" fill="#5a3424"/>
<circle cx="27.5" cy="340" r="1.25" fill="#5a3424"/>
<circle cx="55.5" cy="288.3" r="1.25" fill="#5a3424"/>
<circle cx="55.5" cy="342" r="1.25" fill="#5a3424"/>
<circle cx="68.5" cy="313" r="1.25" fill="#5a3424"/>
<circle cx="68.5" cy="342" r="1.25" fill="#5a3424"/>
<circle cx="73.5" cy="344" r="1.25" fill="#5a3424"/>
<circle cx="75.5" cy="352" r="1.25" fill="#5a3424"/>
<circle cx="91.5" cy="311" r="1.25" fill="#5a3424"/>
<circle cx="93.5" cy="312" r="1.25" fill="#5a3424"/>
<circle cx="90.5" cy="340" r="1.25" fill="#5a3424"/>
<circle cx="117.5" cy="317.7" r="1.25" fill="#5a3424"/>
<circle cx="120.5" cy="308" r="1.25" fill="#5a3424"/>
<circle cx="121.5" cy="343" r="1.25" fill="#5a3424"/>
<circle cx="112.5" cy="342.4" r="1.25" fill="#5a3424"/>
<circle cx="119.5" cy="339" r="1.25" fill="#5a3424"/>
<circle cx="133.5" cy="326" r="1.25" fill="#383838"/>
<circle cx="137.5" cy="334" r="1.25" fill="#383838"/>
<circle cx="150.5" cy="326" r="1.25" fill="#383838"/>
<circle cx="162.5" cy="337" r="1.25" fill="#383838"/>
<circle cx="176.5" cy="341" r="1.25" fill="#5a3424"/>
<circle cx="180.5" cy="321" r="1.25" fill="#5a3424"/>
<circle cx="183.5" cy="338" r="1.25" fill="#5a3424"/>
<circle cx="186.5" cy="288" r="1.25" fill="#5a3424"/>
<circle cx="186.5" cy="384.6" r="1.25" fill="#5a3424"/>
<circle cx="33.5" cy="329" r="1.25" fill="#383838"/>
<circle cx="40.5" cy="336" r="1.25" fill="#383838"/>
<circle cx="44.5" cy="336" r="1.25" fill="#383838"/>
<circle cx="84.5" cy="327" r="1.25" fill="#383838"/>
<line x1="179.4" y1="288" x2="179.4" y2="384.6" stroke="#5a62b0" stroke-width="0.9" stroke-dasharray="1.8,1.2"/>
<rect x="16.4" y="283.5" width="179.1" height="106.0" fill="none" stroke="#7a7a7a" stroke-width="1.0"/>
<line x1="14.399999999999999" y1="285.8" x2="16.4" y2="285.8" stroke="#444" stroke-width="0.6"/>
<text x="13.8" y="287.0" font-size="3.4" text-anchor="end" fill="#1a1a1a">6</text>
<line x1="14.399999999999999" y1="301" x2="16.4" y2="301" stroke="#444" stroke-width="0.6"/>
<text x="13.8" y="302.2" font-size="3.4" text-anchor="end" fill="#1a1a1a">4</text>
<line x1="14.399999999999999" y1="316.2" x2="16.4" y2="316.2" stroke="#444" stroke-width="0.6"/>
<text x="13.8" y="317.4" font-size="3.4" text-anchor="end" fill="#1a1a1a">2</text>
<line x1="14.399999999999999" y1="331.4" x2="16.4" y2="331.4" stroke="#444" stroke-width="0.6"/>
<text x="13.8" y="332.6" font-size="3.4" text-anchor="end" fill="#1a1a1a">0</text>
<line x1="14.399999999999999" y1="346.6" x2="16.4" y2="346.6" stroke="#444" stroke-width="0.6"/>
<text x="13.8" y="347.8" font-size="3.4" text-anchor="end" fill="#1a1a1a">−2</text>
<line x1="14.399999999999999" y1="361.8" x2="16.4" y2="361.8" stroke="#444" stroke-width="0.6"/>
<text x="13.8" y="363.0" font-size="3.4" text-anchor="end" fill="#1a1a1a">−4</text>
<line x1="14.399999999999999" y1="376.8" x2="16.4" y2="376.8" stroke="#444" stroke-width="0.6"/>
<text x="13.8" y="378.0" font-size="3.4" text-anchor="end" fill="#1a1a1a">−6</text>
<line x1="24.3" y1="389.5" x2="24.3" y2="391.1" stroke="#444" stroke-width="0.5"/>
<text transform="translate(25.5,392.5) rotate(-90)" font-size="3.6" text-anchor="end" class="xl">08-25</text>
<line x1="30.7" y1="389.5" x2="30.7" y2="391.1" stroke="#444" stroke-width="0.5"/>
<text transform="translate(31.9,392.5) rotate(-90)" font-size="3.6" text-anchor="end" class="xl">08-25</text>
<line x1="37.5" y1="389.5" x2="37.5" y2="391.1" stroke="#444" stroke-width="0.5"/>
<text transform="translate(38.7,392.5) rotate(-90)" font-size="3.6" text-anchor="end" class="xl">08-25</text>
<line x1="45" y1="389.5" x2="45" y2="391.1" stroke="#444" stroke-width="0.5"/>
<text transform="translate(46.2,392.5) rotate(-90)" font-size="3.6" text-anchor="end" class="xl">08-25</text>
<line x1="51.7" y1="389.5" x2="51.7" y2="391.1" stroke="#444" stroke-width="0.5"/>
<text transform="translate(52.9,392.5) rotate(-90)" font-size="3.6" text-anchor="end" class="xl">08-25</text>
<line x1="58.8" y1="389.5" x2="58.8" y2="391.1" stroke="#444" stroke-width="0.5"/>
<text transform="translate(60.0,392.5) rotate(-90)" font-size="3.6" text-anchor="end" class="xl">08-25</text>
<line x1="65.7" y1="389.5" x2="65.7" y2="391.1" stroke="#444" stroke-width="0.5"/>
<text transform="translate(66.9,392.5) rotate(-90)" font-size="3.6" text-anchor="end" class="xl">08-25</text>
<line x1="72.7" y1="389.5" x2="72.7" y2="391.1" stroke="#444" stroke-width="0.5"/>
<text transform="translate(73.9,392.5) rotate(-90)" font-size="3.6" text-anchor="end" class="xl">08-25</text>
<line x1="79.7" y1="389.5" x2="79.7" y2="391.1" stroke="#444" stroke-width="0.5"/>
<text transform="translate(80.9,392.5) rotate(-90)" font-size="3.6" text-anchor="end" class="xl">08-25</text>
<line x1="87.2" y1="389.5" x2="87.2" y2="391.1" stroke="#444" stroke-width="0.5"/>
<text transform="translate(88.4,392.5) rotate(-90)" font-size="3.6" text-anchor="end" class="xl">08-25</text>
<line x1="94" y1="389.5" x2="94" y2="391.1" stroke="#444" stroke-width="0.5"/>
<text transform="translate(95.2,392.5) rotate(-90)" font-size="3.6" text-anchor="end" class="xl">08-25</text>
<line x1="100.7" y1="389.5" x2="100.7" y2="391.1" stroke="#444" stroke-width="0.5"/>
<text transform="translate(101.9,392.5) rotate(-90)" font-size="3.6" text-anchor="end" class="xl">08-25</text>
<line x1="107.5" y1="389.5" x2="107.5" y2="391.1" stroke="#444" stroke-width="0.5"/>
<text transform="translate(108.7,392.5) rotate(-90)" font-size="3.6" text-anchor="end" class="xl">08-25</text>
<line x1="114.2" y1="389.5" x2="114.2" y2="391.1" stroke="#444" stroke-width="0.5"/>
<text transform="translate(115.4,392.5) rotate(-90)" font-size="3.6" text-anchor="end" class="xl">08-25</text>
<line x1="120.2" y1="389.5" x2="120.2" y2="391.1" stroke="#444" stroke-width="0.5"/>
<text transform="translate(121.4,392.5) rotate(-90)" font-size="3.6" text-anchor="end" class="xl">08-25</text>
<line x1="126.5" y1="389.5" x2="126.5" y2="391.1" stroke="#444" stroke-width="0.5"/>
<text transform="translate(127.7,392.5) rotate(-90)" font-size="3.6" text-anchor="end" class="xl">08-25</text>
<line x1="133.2" y1="389.5" x2="133.2" y2="391.1" stroke="#444" stroke-width="0.5"/>
<text transform="translate(134.4,392.5) rotate(-90)" font-size="3.6" text-anchor="end" class="xl">08-25</text>
<line x1="140" y1="389.5" x2="140" y2="391.1" stroke="#444" stroke-width="0.5"/>
<text transform="translate(141.2,392.5) rotate(-90)" font-size="3.6" text-anchor="end" class="xl">08-25</text>
<line x1="145.2" y1="389.5" x2="145.2" y2="391.1" stroke="#444" stroke-width="0.5"/>
<text transform="translate(146.4,392.5) rotate(-90)" font-size="3.6" text-anchor="end" class="xl">08-25</text>
<line x1="152" y1="389.5" x2="152" y2="391.1" stroke="#444" stroke-width="0.5"/>
<text transform="translate(153.2,392.5) rotate(-90)" font-size="3.6" text-anchor="end" class="xl">08-25</text>
<line x1="158.7" y1="389.5" x2="158.7" y2="391.1" stroke="#444" stroke-width="0.5"/>
<text transform="translate(159.9,392.5) rotate(-90)" font-size="3.6" text-anchor="end" class="xl">08-25</text>
<line x1="164.7" y1="389.5" x2="164.7" y2="391.1" stroke="#444" stroke-width="0.5"/>
<text transform="translate(165.9,392.5) rotate(-90)" font-size="3.6" text-anchor="end" class="xl">08-25</text>
<line x1="171.5" y1="389.5" x2="171.5" y2="391.1" stroke="#444" stroke-width="0.5"/>
<text transform="translate(172.7,392.5) rotate(-90)" font-size="3.6" text-anchor="end" class="xl">08-25</text>
<line x1="178.7" y1="389.5" x2="178.7" y2="391.1" stroke="#444" stroke-width="0.5"/>
<text transform="translate(179.9,392.5) rotate(-90)" font-size="3.6" text-anchor="end" class="xl">08-25 16</text>
<line x1="186.2" y1="389.5" x2="186.2" y2="391.1" stroke="#444" stroke-width="0.5"/>
<text transform="translate(187.4,392.5) rotate(-90)" font-size="3.6" text-anchor="end" class="xl">08-25 16</text>
<text x="106.0" y="281.6" font-size="4.1" text-anchor="middle" fill="#1a1a1a">AVAX_2021-10-18 13.03</text>
<text x="106.0" y="410.7" font-size="3.6" text-anchor="middle" fill="#1a1a1a">datetime</text>
<text transform="translate(7.7,336.5) rotate(-90)" font-size="3.6" text-anchor="middle" fill="#1a1a1a">bin_volume</text>
<rect x="17.2" y="377.5" width="43.8" height="10.2" rx="0.8" fill="#fff" fill-opacity="0.85" stroke="#d4d4d4" stroke-width="0.4"/>
<line x1="18.7" y1="380.5" x2="25.2" y2="380.5" stroke="#5a62b0" stroke-width="0.6" stroke-dasharray="1.2,0.8"/>
<line x1="18.7" y1="385.0" x2="25.2" y2="385.0" stroke="#ebd08e" stroke-width="0.6" stroke-dasharray="1.2,0.8"/>
<text x="28.2" y="382.1" font-size="3.5" fill="#1a1a1a">2021-10-18 13.03</text>
<text x="28.2" y="386.5" font-size="3.5" fill="#1a1a1a">anomalous volumes</text>
</g>
<g>
<rect x="259" y="284.0" width="4" height="105.0" fill="#fef7fa"/>
<rect x="297" y="284.0" width="6" height="105.0" fill="#fef7fa"/>
<rect x="315" y="284.0" width="5" height="105.0" fill="#fef7fa"/>
<rect x="385" y="284.0" width="5" height="105.0" fill="#fef7fa"/>
<rect x="223.7" y="343.5" width="164.3" height="16.30000000000001" fill="#d9f6f1"/>
<line x1="223.7" y1="330.2" x2="388.0" y2="330.2" stroke="#ebd08e" stroke-width="1.0" stroke-dasharray="1.8,0.9"/>
<line x1="223.7" y1="370.8" x2="388.0" y2="370.8" stroke="#ebd08e" stroke-width="1.0" stroke-dasharray="1.8,0.9"/>
<line x1="239.5" y1="350.3" x2="239.5" y2="334.7" stroke="#7e857c" stroke-width="0.8"/>
<line x1="239.5" y1="350.3" x2="239.5" y2="362" stroke="#7e857c" stroke-width="0.8"/>
<line x1="243.5" y1="350.3" x2="243.5" y2="342.2" stroke="#7e857c" stroke-width="0.8"/>
<line x1="251.5" y1="350.3" x2="251.5" y2="340" stroke="#7e857c" stroke-width="0.8"/>
<line x1="252.5" y1="350.3" x2="252.5" y2="360.5" stroke="#7e857c" stroke-width="0.8"/>
<line x1="256.5" y1="350.3" x2="256.5" y2="344" stroke="#7e857c" stroke-width="0.8"/>
<line x1="261.5" y1="350.3" x2="261.5" y2="378.5" stroke="#8e5640" stroke-width="0.8"/>
<line x1="263.5" y1="350.3" x2="263.5" y2="341.7" stroke="#7e857c" stroke-width="0.8"/>
<line x1="269.5" y1="350.3" x2="269.5" y2="342.2" stroke="#7e857c" stroke-width="0.8"/>
<line x1="273.5" y1="350.3" x2="273.5" y2="370.2" stroke="#7e857c" stroke-width="0.8"/>
<line x1="279.5" y1="350.3" x2="279.5" y2="338" stroke="#7e857c" stroke-width="0.8"/>
<line x1="281.5" y1="350.3" x2="281.5" y2="329.7" stroke="#7e857c" stroke-width="0.8"/>
<line x1="281.5" y1="350.3" x2="281.5" y2="360.2" stroke="#7e857c" stroke-width="0.8"/>
<line x1="292.5" y1="350.3" x2="292.5" y2="325.9" stroke="#8e5640" stroke-width="0.8"/>
<line x1="292.5" y1="350.3" x2="292.5" y2="357.7" stroke="#7e857c" stroke-width="0.8"/>
<line x1="290.5" y1="350.3" x2="290.5" y2="330" stroke="#7e857c" stroke-width="0.8"/>
<line x1="293.5" y1="350.3" x2="293.5" y2="348" stroke="#7e857c" stroke-width="0.8"/>
<line x1="293.5" y1="350.3" x2="293.5" y2="339" stroke="#7e857c" stroke-width="0.8"/>
<line x1="300.5" y1="350.3" x2="300.5" y2="384.5" stroke="#8e5640" stroke-width="0.8"/>
<line x1="305.5" y1="350.3" x2="305.5" y2="337" stroke="#7e857c" stroke-width="0.8"/>
<line x1="310.5" y1="350.3" x2="310.5" y2="342" stroke="#7e857c" stroke-width="0.8"/>
<line x1="313.5" y1="350.3" x2="313.5" y2="340" stroke="#7e857c" stroke-width="0.8"/>
<line x1="317.5" y1="350.3" x2="317.5" y2="287.8" stroke="#8e5640" stroke-width="0.8"/>
<line x1="318.5" y1="350.3" x2="318.5" y2="360" stroke="#8e5640" stroke-width="0.8"/>
<line x1="320.5" y1="350.3" x2="320.5" y2="336" stroke="#7e857c" stroke-width="0.8"/>
<line x1="327.5" y1="350.3" x2="327.5" y2="335" stroke="#7e857c" stroke-width="0.8"/>
<line x1="345.5" y1="350.3" x2="345.5" y2="337" stroke="#7e857c" stroke-width="0.8"/>
<line x1="350.5" y1="350.3" x2="350.5" y2="338" stroke="#7e857c" stroke-width="0.8"/>
<line x1="366.5" y1="350.3" x2="366.5" y2="380.6" stroke="#8e5640" stroke-width="0.8"/>
<line x1="360.5" y1="350.3" x2="360.5" y2="362" stroke="#7e857c" stroke-width="0.8"/>
<line x1="387.5" y1="350.3" x2="387.5" y2="321" stroke="#8e5640" stroke-width="0.8"/>
<rect x="223.7" y="349.2" width="164.3" height="2.2" fill="#2e7d3e"/>
<polyline points="223.7,349.5 224.6,354.8 225.5,350.1 226.4,350.5 227.4,351.6 228.3,350.3 229.2,353.4 230.1,351.4 231.0,355.7 231.9,349.8 232.8,356.7 233.7,349.0 234.7,349.4 235.6,344.7 236.5,355.8 237.4,351.7 238.3,349.9 239.2,351.0 240.1,351.4 241.0,349.5 242.0,345.0 242.9,346.4 243.8,346.3 244.7,349.6 245.6,351.5 246.5,357.2 247.4,350.4 248.3,350.4 249.3,351.6 250.2,349.5 251.1,354.7 252.0,349.4 252.9,349.9 253.8,351.7 254.7,350.5 255.6,349.4 256.6,349.1 257.5,350.8 258.4,353.4 259.3,349.1 260.2,349.7 261.1,348.9 262.0,348.9 262.9,342.8 263.9,351.4 264.8,350.4 265.7,346.8 266.6,349.8 267.5,349.3 268.4,350.0 269.3,349.0 270.3,350.5 271.2,350.5 272.1,346.0 273.0,351.7 273.9,351.7 274.8,351.4 275.7,348.8 276.6,350.6 277.6,350.7 278.5,351.7 279.4,342.9 280.3,343.4 281.2,348.8 282.1,356.3 283.0,350.6 283.9,351.3 284.9,343.7 285.8,351.4 286.7,349.8 287.6,348.7 288.5,349.5 289.4,350.4 290.3,350.9 291.2,349.5 292.2,349.3 293.1,345.3 294.0,349.8 294.9,354.2 295.8,349.5 296.7,349.3 297.6,346.1 298.5,350.9 299.5,350.4 300.4,354.1 301.3,342.8 302.2,349.8 303.1,351.9 304.0,349.1 304.9,351.2 305.9,351.2 306.8,349.6 307.7,351.1 308.6,351.3 309.5,345.8 310.4,353.6 311.3,357.7 312.2,349.8 313.2,349.2 314.1,351.7 315.0,344.3 315.9,351.0 316.8,350.2 317.7,349.1 318.6,353.3 319.5,347.5 320.5,349.3 321.4,345.0 322.3,351.1 323.2,351.7 324.1,347.3 325.0,351.1 325.9,350.3 326.8,344.9 327.8,351.2 328.7,350.2 329.6,351.4 330.5,349.3 331.4,351.8 332.3,354.9 333.2,346.8 334.1,349.4 335.1,343.7 336.0,350.8 336.9,349.3 337.8,347.5 338.7,354.7 339.6,350.7 340.5,349.8 341.4,350.6 342.4,350.4 343.3,349.8 344.2,349.4 345.1,351.4 346.0,349.2 346.9,351.9 347.8,349.2 348.8,349.5 349.7,349.2 350.6,349.6 351.5,354.6 352.4,350.3 353.3,350.3 354.2,348.7 355.1,349.6 356.1,350.7 357.0,349.0 357.9,350.2 358.8,351.8 359.7,350.1 360.6,354.1 361.5,351.3 362.4,355.4 363.4,350.5 364.3,350.3 365.2,349.6 366.1,350.3 367.0,349.3 367.9,356.9 368.8,351.6 369.7,351.3 370.7,351.3 371.6,349.3 372.5,349.7 373.4,353.0 374.3,349.8 375.2,350.7 376.1,351.7 377.0,348.9 378.0,349.1 378.9,351.5 379.8,349.3 380.7,351.1 381.6,350.7 382.5,353.2 383.4,351.2 384.3,351.5 385.3,351.7 386.2,350.3 387.1,349.8 388.0,343.7" fill="none" stroke="#2e7d3e" stroke-width="0.8" stroke-linejoin="round" marker-start="url(#m5)" marker-mid="url(#m5)" marker-end="url(#m5)"/>
<circle cx="239.5" cy="334.7" r="1.25" fill="#383838"/>
<circle cx="239.5" cy="362" r="1.25" fill="#383838"/>
<circle cx="243.5" cy="342.2" r="1.25" fill="#383838"/>
<circle cx="251.5" cy="340" r="1.25" fill="#383838"/>
<circle cx="252.5" cy="360.5" r="1.25" fill="#383838"/>
<circle cx="256.5" cy="344" r="1.25" fill="#383838"/>
<circle cx="261.5" cy="378.5" r="1.25" fill="#5a3424"/>
<circle cx="263.5" cy="341.7" r="1.25" fill="#383838"/>
<circle cx="269.5" cy="342.2" r="1.25" fill="#383838"/>
<circle cx="273.5" cy="370.2" r="1.25" fill="#383838"/>
<circle cx="279.5" cy="338" r="1.25" fill="#383838"/>
<circle cx="281.5" cy="329.7" r="1.25" fill="#383838"/>
<circle cx="281.5" cy="360.2" r="1.25" fill="#383838"/>
<circle cx="292.5" cy="325.9" r="1.25" fill="#5a3424"/>
<circle cx="292.5" cy="357.7" r="1.25" fill="#383838"/>
<circle cx="290.5" cy="330" r="1.25" fill="#383838"/>
<circle cx="293.5" cy="348" r="1.25" fill="#383838"/>
<circle cx="293.5" cy="339" r="1.25" fill="#383838"/>
<circle cx="300.5" cy="384.5" r="1.25" fill="#5a3424"/>
<circle cx="305.5" cy="337" r="1.25" fill="#383838"/>
<circle cx="310.5" cy="342" r="1.25" fill="#383838"/>
<circle cx="313.5" cy="340" r="1.25" fill="#383838"/>
<circle cx="317.5" cy="287.8" r="1.25" fill="#5a3424"/>
<circle cx="318.5" cy="360" r="1.25" fill="#5a3424"/>
<circle cx="320.5" cy="336" r="1.25" fill="#383838"/>
<circle cx="327.5" cy="335" r="1.25" fill="#383838"/>
<circle cx="345.5" cy="337" r="1.25" fill="#383838"/>
<circle cx="350.5" cy="338" r="1.25" fill="#383838"/>
<circle cx="366.5" cy="380.6" r="1.25" fill="#5a3424"/>
<circle cx="360.5" cy="362" r="1.25" fill="#383838"/>
<circle cx="387.5" cy="321" r="1.25" fill="#5a3424"/>
<line x1="382.7" y1="287.8" x2="382.7" y2="384.5" stroke="#5a62b0" stroke-width="0.9" stroke-dasharray="1.8,1.2"/>
<line x1="387.3" y1="287.8" x2="387.3" y2="384.5" stroke="#5a62b0" stroke-width="0.9" stroke-dasharray="1.8,1.2"/>
<rect x="216.5" y="283.5" width="178.5" height="106.0" fill="none" stroke="#7a7a7a" stroke-width="1.0"/>
<line x1="214.5" y1="299.7" x2="216.5" y2="299.7" stroke="#444" stroke-width="0.6"/>
<text x="213.9" y="300.9" font-size="3.4" text-anchor="end" fill="#1a1a1a">0.6</text>
<line x1="214.5" y1="316.7" x2="216.5" y2="316.7" stroke="#444" stroke-width="0.6"/>
<text x="213.9" y="317.9" font-size="3.4" text-anchor="end" fill="#1a1a1a">0.4</text>
<line x1="214.5" y1="333.6" x2="216.5" y2="333.6" stroke="#444" stroke-width="0.6"/>
<text x="213.9" y="334.8" font-size="3.4" text-anchor="end" fill="#1a1a1a">0.2</text>
<line x1="214.5" y1="350.5" x2="216.5" y2="350.5" stroke="#444" stroke-width="0.6"/>
<text x="213.9" y="351.7" font-size="3.4" text-anchor="end" fill="#1a1a1a">0.0</text>
<line x1="214.5" y1="367.5" x2="216.5" y2="367.5" stroke="#444" stroke-width="0.6"/>
<text x="213.9" y="368.7" font-size="3.4" text-anchor="end" fill="#1a1a1a">−0.2</text>
<line x1="214.5" y1="384.5" x2="216.5" y2="384.5" stroke="#444" stroke-width="0.6"/>
<text x="213.9" y="385.7" font-size="3.4" text-anchor="end" fill="#1a1a1a">−0.4</text>
<line x1="224.1" y1="389.5" x2="224.1" y2="391.1" stroke="#444" stroke-width="0.5"/>
<text transform="translate(225.3,392.5) rotate(-90)" font-size="3.6" text-anchor="end" class="xl">08-25</text>
<line x1="233.7" y1="389.5" x2="233.7" y2="391.1" stroke="#444" stroke-width="0.5"/>
<text transform="translate(234.9,392.5) rotate(-90)" font-size="3.6" text-anchor="end" class="xl">08-25</text>
<line x1="238.2" y1="389.5" x2="238.2" y2="391.1" stroke="#444" stroke-width="0.5"/>
<text transform="translate(239.4,392.5) rotate(-90)" font-size="3.6" text-anchor="end" class="xl">08-25</text>
<line x1="245" y1="389.5" x2="245" y2="391.1" stroke="#444" stroke-width="0.5"/>
<text transform="translate(246.2,392.5) rotate(-90)" font-size="3.6" text-anchor="end" class="xl">08-25</text>
<line x1="254.3" y1="389.5" x2="254.3" y2="391.1" stroke="#444" stroke-width="0.5"/>
<text transform="translate(255.5,392.5) rotate(-90)" font-size="3.6" text-anchor="end" class="xl">08-25</text>
<line x1="262.2" y1="389.5" x2="262.2" y2="391.1" stroke="#444" stroke-width="0.5"/>
<text transform="translate(263.4,392.5) rotate(-90)" font-size="3.6" text-anchor="end" class="xl">08-25</text>
<line x1="266.7" y1="389.5" x2="266.7" y2="391.1" stroke="#444" stroke-width="0.5"/>
<text transform="translate(267.9,392.5) rotate(-90)" font-size="3.6" text-anchor="end" class="xl">08-25</text>
<line x1="273.7" y1="389.5" x2="273.7" y2="391.1" stroke="#444" stroke-width="0.5"/>
<text transform="translate(274.9,392.5) rotate(-90)" font-size="3.6" text-anchor="end" class="xl">08-25</text>
<line x1="279" y1="389.5" x2="279" y2="391.1" stroke="#444" stroke-width="0.5"/>
<text transform="translate(280.2,392.5) rotate(-90)" font-size="3.6" text-anchor="end" class="xl">08-25</text>
<line x1="282" y1="389.5" x2="282" y2="391.1" stroke="#444" stroke-width="0.5"/>
<text transform="translate(283.2,392.5) rotate(-90)" font-size="3.6" text-anchor="end" class="xl">08-25</text>
<line x1="285.3" y1="389.5" x2="285.3" y2="391.1" stroke="#444" stroke-width="0.5"/>
<text transform="translate(286.5,392.5) rotate(-90)" font-size="3.6" text-anchor="end" class="xl">08-25</text>
<line x1="291" y1="389.5" x2="291" y2="391.1" stroke="#444" stroke-width="0.5"/>
<text transform="translate(292.2,392.5) rotate(-90)" font-size="3.6" text-anchor="end" class="xl">08-25</text>
<line x1="297" y1="389.5" x2="297" y2="391.1" stroke="#444" stroke-width="0.5"/>
<text transform="translate(298.2,392.5) rotate(-90)" font-size="3.6" text-anchor="end" class="xl">08-25</text>
<line x1="305.2" y1="389.5" x2="305.2" y2="391.1" stroke="#444" stroke-width="0.5"/>
<text transform="translate(306.4,392.5) rotate(-90)" font-size="3.6" text-anchor="end" class="xl">08-25</text>
<line x1="312.7" y1="389.5" x2="312.7" y2="391.1" stroke="#444" stroke-width="0.5"/>
<text transform="translate(313.9,392.5) rotate(-90)" font-size="3.6" text-anchor="end" class="xl">08-25</text>
<line x1="321.7" y1="389.5" x2="321.7" y2="391.1" stroke="#444" stroke-width="0.5"/>
<text transform="translate(322.9,392.5) rotate(-90)" font-size="3.6" text-anchor="end" class="xl">08-25</text>
<line x1="334.3" y1="389.5" x2="334.3" y2="391.1" stroke="#444" stroke-width="0.5"/>
<text transform="translate(335.5,392.5) rotate(-90)" font-size="3.6" text-anchor="end" class="xl">08-25</text>
<line x1="341.8" y1="389.5" x2="341.8" y2="391.1" stroke="#444" stroke-width="0.5"/>
<text transform="translate(343.0,392.5) rotate(-90)" font-size="3.6" text-anchor="end" class="xl">08-25</text>
<line x1="348.7" y1="389.5" x2="348.7" y2="391.1" stroke="#444" stroke-width="0.5"/>
<text transform="translate(349.9,392.5) rotate(-90)" font-size="3.6" text-anchor="end" class="xl">08-25</text>
<line x1="355.7" y1="389.5" x2="355.7" y2="391.1" stroke="#444" stroke-width="0.5"/>
<text transform="translate(356.9,392.5) rotate(-90)" font-size="3.6" text-anchor="end" class="xl">08-25</text>
<line x1="361.7" y1="389.5" x2="361.7" y2="391.1" stroke="#444" stroke-width="0.5"/>
<text transform="translate(362.9,392.5) rotate(-90)" font-size="3.6" text-anchor="end" class="xl">08-25</text>
<line x1="372.2" y1="389.5" x2="372.2" y2="391.1" stroke="#444" stroke-width="0.5"/>
<text transform="translate(373.4,392.5) rotate(-90)" font-size="3.6" text-anchor="end" class="xl">08-25</text>
<line x1="378.2" y1="389.5" x2="378.2" y2="391.1" stroke="#444" stroke-width="0.5"/>
<text transform="translate(379.4,392.5) rotate(-90)" font-size="3.6" text-anchor="end" class="xl">08-25</text>
<line x1="382.3" y1="389.5" x2="382.3" y2="391.1" stroke="#444" stroke-width="0.5"/>
<text transform="translate(383.5,392.5) rotate(-90)" font-size="3.6" text-anchor="end" class="xl">08-25 16</text>
<line x1="386.2" y1="389.5" x2="386.2" y2="391.1" stroke="#444" stroke-width="0.5"/>
<text transform="translate(387.4,392.5) rotate(-90)" font-size="3.6" text-anchor="end" class="xl">08-25 16</text>
<text x="305.8" y="281.6" font-size="4.1" text-anchor="middle" fill="#1a1a1a">BEAM_2021-8-15 16.48</text>
<text x="305.8" y="410.7" font-size="3.6" text-anchor="middle" fill="#1a1a1a">datetime</text>
<text transform="translate(205.0,336.5) rotate(-90)" font-size="3.6" text-anchor="middle" fill="#1a1a1a">bin_volume</text>
<rect x="349.6" y="285.8" width="43.3" height="9.6" rx="0.8" fill="#fff" fill-opacity="0.85" stroke="#d4d4d4" stroke-width="0.4"/>
<line x1="351.1" y1="288.6" x2="357.6" y2="288.6" stroke="#5a62b0" stroke-width="0.6" stroke-dasharray="1.2,0.8"/>
<line x1="351.1" y1="292.9" x2="357.6" y2="292.9" stroke="#ebd08e" stroke-width="0.6" stroke-dasharray="1.2,0.8"/>
<text x="360.6" y="290.2" font-size="3.5" fill="#1a1a1a">2021-8-15 16.48</text>
<text x="360.6" y="294.4" font-size="3.5" fill="#1a1a1a">anomalous volumes</text>
</g>
<g>
<rect x="24" y="421.7" width="7" height="104.90000000000003" fill="#fef7fa"/>
<rect x="136" y="421.7" width="15" height="104.90000000000003" fill="#fcecf2"/>
<rect x="178" y="421.7" width="8" height="104.90000000000003" fill="#fef7fa"/>
<rect x="25.5" y="471.5" width="114.5" height="16.5" fill="#d9f6f1"/>
<rect x="140.0" y="471" width="50.0" height="24" fill="#d9f6f1"/>
<line x1="25.5" y1="470.2" x2="190.0" y2="470.2" stroke="#ebd08e" stroke-width="1.0" stroke-dasharray="1.8,0.9"/>
<line x1="25.5" y1="495.3" x2="190.0" y2="495.3" stroke="#ebd08e" stroke-width="1.0" stroke-dasharray="1.8,0.9"/>
<line x1="26.5" y1="482.7" x2="26.5" y2="460" stroke="#8e5640" stroke-width="0.8"/>
<line x1="27.5" y1="482.7" x2="27.5" y2="465" stroke="#8e5640" stroke-width="0.8"/>
<line x1="28.5" y1="482.7" x2="28.5" y2="470" stroke="#8e5640" stroke-width="0.8"/>
<line x1="27.5" y1="482.7" x2="27.5" y2="493" stroke="#8e5640" stroke-width="0.8"/>
<line x1="41.5" y1="482.7" x2="41.5" y2="472" stroke="#7e857c" stroke-width="0.8"/>
<line x1="55.5" y1="482.7" x2="55.5" y2="468.5" stroke="#8e5640" stroke-width="0.8"/>
<line x1="67.5" y1="482.7" x2="67.5" y2="506.7" stroke="#8e5640" stroke-width="0.8"/>
<line x1="89.5" y1="482.7" x2="89.5" y2="509" stroke="#8e5640" stroke-width="0.8"/>
<line x1="142.5" y1="482.7" x2="142.5" y2="425.6" stroke="#8e5640" stroke-width="0.8"/>
<line x1="141.5" y1="482.7" x2="141.5" y2="440" stroke="#8e5640" stroke-width="0.8"/>
<line x1="142.5" y1="482.7" x2="142.5" y2="522" stroke="#8e5640" stroke-width="0.8"/>
<line x1="143.5" y1="482.7" x2="143.5" y2="515" stroke="#8e5640" stroke-width="0.8"/>
<line x1="144.5" y1="482.7" x2="144.5" y2="450" stroke="#8e5640" stroke-width="0.8"/>
<line x1="146.5" y1="482.7" x2="146.5" y2="454" stroke="#8e5640" stroke-width="0.8"/>
<line x1="147.5" y1="482.7" x2="147.5" y2="462" stroke="#8e5640" stroke-width="0.8"/>
<line x1="139.5" y1="482.7" x2="139.5" y2="500" stroke="#8e5640" stroke-width="0.8"/>
<line x1="145.5" y1="482.7" x2="145.5" y2="505" stroke="#8e5640" stroke-width="0.8"/>
<line x1="160.5" y1="482.7" x2="160.5" y2="465" stroke="#8e5640" stroke-width="0.8"/>
<line x1="170.5" y1="482.7" x2="170.5" y2="463" stroke="#8e5640" stroke-width="0.8"/>
<line x1="174.5" y1="482.7" x2="174.5" y2="465" stroke="#8e5640" stroke-width="0.8"/>
<line x1="181.5" y1="482.7" x2="181.5" y2="461" stroke="#8e5640" stroke-width="0.8"/>
<line x1="181.5" y1="482.7" x2="181.5" y2="511" stroke="#8e5640" stroke-width="0.8"/>
<line x1="184.5" y1="482.7" x2="184.5" y2="508" stroke="#8e5640" stroke-width="0.8"/>
<line x1="155.5" y1="482.7" x2="155.5" y2="492" stroke="#7e857c" stroke-width="0.8"/>
<line x1="165.5" y1="482.7" x2="165.5" y2="487" stroke="#7e857c" stroke-width="0.8"/>
<rect x="140" y="459.5" width="4" height="56" fill="#a86a48" fill-opacity="0.85"/>
<rect x="25.5" y="481.2" width="164.5" height="3.0" fill="#2e7d3e"/>
<rect x="25.0" y="479.9" width="20.0" height="5.6" fill="#2e7d3e"/>
<rect x="136.0" y="479.6" width="14.0" height="6.3" fill="#2e7d3e"/>
<rect x="145.0" y="480.0" width="45.0" height="5.3" fill="#2e7d3e"/>
<polyline points="25.5,483.9 26.4,484.3 27.3,481.2 28.2,480.2 29.2,484.2 30.1,481.3 31.0,486.0 31.9,486.3 32.8,486.4 33.7,481.4 34.6,482.9 35.6,479.0 36.5,483.0 37.4,484.7 38.3,480.3 39.2,480.6 40.1,479.3 41.0,475.6 42.0,483.8 42.9,482.0 43.8,482.5 44.7,479.7 45.6,483.4 46.5,482.9 47.4,484.5 48.3,481.7 49.3,484.7 50.2,481.5 51.1,480.9 52.0,486.8 52.9,483.6 53.8,483.8 54.7,483.5 55.7,482.4 56.6,475.9 57.5,480.9 58.4,476.9 59.3,481.2 60.2,483.0 61.1,482.3 62.1,483.4 63.0,480.9 63.9,481.2 64.8,479.6 65.7,477.8 66.6,489.1 67.5,483.1 68.5,484.6 69.4,478.8 70.3,482.7 71.2,482.3 72.1,481.7 73.0,483.5 73.9,482.2 74.8,482.5 75.8,483.2 76.7,481.9 77.6,482.5 78.5,484.2 79.4,482.2 80.3,484.6 81.2,482.3 82.2,483.7 83.1,483.6 84.0,483.3 84.9,482.4 85.8,481.6 86.7,482.9 87.6,482.1 88.6,480.8 89.5,483.8 90.4,483.2 91.3,482.3 92.2,481.5 93.1,480.9 94.0,484.0 95.0,482.3 95.9,483.5 96.8,483.7 97.7,481.7 98.6,482.9 99.5,484.6 100.4,487.0 101.4,484.5 102.3,483.0 103.2,482.7 104.1,489.3 105.0,481.9 105.9,482.4 106.8,487.5 107.8,484.7 108.7,484.5 109.6,483.7 110.5,476.9 111.4,484.0 112.3,481.8 113.2,482.8 114.1,477.1 115.1,476.2 116.0,481.7 116.9,479.4 117.8,483.7 118.7,482.7 119.6,480.8 120.5,484.1 121.5,483.5 122.4,482.0 123.3,481.6 124.2,482.0 125.1,483.9 126.0,483.1 126.9,481.6 127.9,483.2 128.8,487.1 129.7,482.4 130.6,484.4 131.5,481.4 132.4,483.5 133.3,484.2 134.3,481.6 135.2,481.6 136.1,478.6 137.0,478.8 137.9,483.1 138.8,479.1 139.7,473.3 140.7,486.0 141.6,477.1 142.5,479.8 143.4,484.2 144.3,481.1 145.2,480.8 146.1,481.4 147.0,480.4 148.0,480.5 148.9,474.8 149.8,479.2 150.7,482.5 151.6,481.3 152.5,484.6 153.4,483.9 154.4,482.7 155.3,481.9 156.2,482.5 157.1,483.0 158.0,485.7 158.9,479.1 159.8,479.1 160.8,483.6 161.7,480.4 162.6,485.3 163.5,484.2 164.4,482.4 165.3,483.1 166.2,486.4 167.2,485.2 168.1,474.0 169.0,482.8 169.9,485.5 170.8,486.4 171.7,487.6 172.6,475.3 173.6,491.3 174.5,484.7 175.4,483.3 176.3,474.3 177.2,480.5 178.1,483.0 179.0,483.3 179.9,479.0 180.9,483.9 181.8,479.5 182.7,481.4 183.6,483.1 184.5,488.5 185.4,484.4 186.3,479.3 187.3,488.1 188.2,479.1 189.1,474.1 190.0,480.9" fill="none" stroke="#2e7d3e" stroke-width="0.8" stroke-linejoin="round" marker-start="url(#m6)" marker-mid="url(#m6)" marker-end="url(#m6)"/>
<circle cx="26.5" cy="460" r="1.25" fill="#5a3424"/>
<circle cx="27.5" cy="465" r="1.25" fill="#5a3424"/>
<circle cx="28.5" cy="470" r="1.25" fill="#5a3424"/>
<circle cx="27.5" cy="493" r="1.25" fill="#5a3424"/>
<circle cx="41.5" cy="472" r="1.25" fill="#383838"/>
<circle cx="55.5" cy="468.5" r="1.25" fill="#5a3424"/>
<circle cx="67.5" cy="506.7" r="1.25" fill="#5a3424"/>
<circle cx="89.5" cy="509" r="1.25" fill="#5a3424"/>
<circle cx="142.5" cy="425.6" r="1.25" fill="#5a3424"/>
<circle cx="141.5" cy="440" r="1.25" fill="#5a3424"/>
<circle cx="142.5" cy="522" r="1.25" fill="#5a3424"/>
<circle cx="143.5" cy="515" r="1.25" fill="#5a3424"/>
<circle cx="144.5" cy="450" r="1.25" fill="#5a3424"/>
<circle cx="146.5" cy="454" r="1.25" fill="#5a3424"/>
<circle cx="147.5" cy="462" r="1.25" fill="#5a3424"/>
<circle cx="139.5" cy="500" r="1.25" fill="#5a3424"/>
<circle cx="145.5" cy="505" r="1.25" fill="#5a3424"/>
<circle cx="160.5" cy="465" r="1.25" fill="#5a3424"/>
<circle cx="170.5" cy="463" r="1.25" fill="#5a3424"/>
<circle cx="174.5" cy="465" r="1.25" fill="#5a3424"/>
<circle cx="181.5" cy="461" r="1.25" fill="#5a3424"/>
<circle cx="181.5" cy="511" r="1.25" fill="#5a3424"/>
<circle cx="184.5" cy="508" r="1.25" fill="#5a3424"/>
<circle cx="155.5" cy="492" r="1.25" fill="#383838"/>
<circle cx="165.5" cy="487" r="1.25" fill="#383838"/>
<line x1="183.6" y1="425.6" x2="183.6" y2="522" stroke="#5a62b0" stroke-width="0.9" stroke-dasharray="1.8,1.2"/>
<line x1="188.4" y1="425.6" x2="188.4" y2="522" stroke="#5a62b0" stroke-width="0.9" stroke-dasharray="1.8,1.2"/>
<rect x="17.5" y="421.2" width="179.3" height="105.9" fill="none" stroke="#7a7a7a" stroke-width="1.0"/>
<line x1="15.5" y1="431.3" x2="17.5" y2="431.3" stroke="#444" stroke-width="0.6"/>
<text x="14.9" y="432.5" font-size="3.4" text-anchor="end" fill="#1a1a1a">0.8</text>
<line x1="15.5" y1="444.2" x2="17.5" y2="444.2" stroke="#444" stroke-width="0.6"/>
<text x="14.9" y="445.4" font-size="3.4" text-anchor="end" fill="#1a1a1a">0.6</text>
<line x1="15.5" y1="457.1" x2="17.5" y2="457.1" stroke="#444" stroke-width="0.6"/>
<text x="14.9" y="458.3" font-size="3.4" text-anchor="end" fill="#1a1a1a">0.4</text>
<line x1="15.5" y1="470.0" x2="17.5" y2="470.0" stroke="#444" stroke-width="0.6"/>
<text x="14.9" y="471.2" font-size="3.4" text-anchor="end" fill="#1a1a1a">0.2</text>
<line x1="15.5" y1="482.9" x2="17.5" y2="482.9" stroke="#444" stroke-width="0.6"/>
<text x="14.9" y="484.1" font-size="3.4" text-anchor="end" fill="#1a1a1a">0.0</text>
<line x1="15.5" y1="495.9" x2="17.5" y2="495.9" stroke="#444" stroke-width="0.6"/>
<text x="14.9" y="497.1" font-size="3.4" text-anchor="end" fill="#1a1a1a">−0.2</text>
<line x1="15.5" y1="508.8" x2="17.5" y2="508.8" stroke="#444" stroke-width="0.6"/>
<text x="14.9" y="510.0" font-size="3.4" text-anchor="end" fill="#1a1a1a">−0.4</text>
<line x1="15.5" y1="521.7" x2="17.5" y2="521.7" stroke="#444" stroke-width="0.6"/>
<text x="14.9" y="522.9" font-size="3.4" text-anchor="end" fill="#1a1a1a">−0.6</text>
<line x1="25.8" y1="527.1" x2="25.8" y2="528.7" stroke="#444" stroke-width="0.5"/>
<text transform="translate(27.0,530.1) rotate(-90)" font-size="3.6" text-anchor="end" class="xl">08-25</text>
<line x1="34" y1="527.1" x2="34" y2="528.7" stroke="#444" stroke-width="0.5"/>
<text transform="translate(35.2,530.1) rotate(-90)" font-size="3.6" text-anchor="end" class="xl">08-25</text>
<line x1="37" y1="527.1" x2="37" y2="528.7" stroke="#444" stroke-width="0.5"/>
<text transform="translate(38.2,530.1) rotate(-90)" font-size="3.6" text-anchor="end" class="xl">08-25</text>
<line x1="47.7" y1="527.1" x2="47.7" y2="528.7" stroke="#444" stroke-width="0.5"/>
<text transform="translate(48.9,530.1) rotate(-90)" font-size="3.6" text-anchor="end" class="xl">08-25</text>
<line x1="61.2" y1="527.1" x2="61.2" y2="528.7" stroke="#444" stroke-width="0.5"/>
<text transform="translate(62.4,530.1) rotate(-90)" font-size="3.6" text-anchor="end" class="xl">08-25</text>
<line x1="74.5" y1="527.1" x2="74.5" y2="528.7" stroke="#444" stroke-width="0.5"/>
<text transform="translate(75.7,530.1) rotate(-90)" font-size="3.6" text-anchor="end" class="xl">08-25</text>
<line x1="88" y1="527.1" x2="88" y2="528.7" stroke="#444" stroke-width="0.5"/>
<text transform="translate(89.2,530.1) rotate(-90)" font-size="3.6" text-anchor="end" class="xl">08-25</text>
<line x1="97.7" y1="527.1" x2="97.7" y2="528.7" stroke="#444" stroke-width="0.5"/>
<text transform="translate(98.9,530.1) rotate(-90)" font-size="3.6" text-anchor="end" class="xl">08-25</text>
<line x1="107" y1="527.1" x2="107" y2="528.7" stroke="#444" stroke-width="0.5"/>
<text transform="translate(108.2,530.1) rotate(-90)" font-size="3.6" text-anchor="end" class="xl">08-25</text>
<line x1="109.5" y1="527.1" x2="109.5" y2="528.7" stroke="#444" stroke-width="0.5"/>
<text transform="translate(110.7,530.1) rotate(-90)" font-size="3.6" text-anchor="end" class="xl">08-25</text>
<line x1="115" y1="527.1" x2="115" y2="528.7" stroke="#444" stroke-width="0.5"/>
<text transform="translate(116.2,530.1) rotate(-90)" font-size="3.6" text-anchor="end" class="xl">08-25</text>
<line x1="118" y1="527.1" x2="118" y2="528.7" stroke="#444" stroke-width="0.5"/>
<text transform="translate(119.2,530.1) rotate(-90)" font-size="3.6" text-anchor="end" class="xl">08-25</text>
<line x1="122.5" y1="527.1" x2="122.5" y2="528.7" stroke="#444" stroke-width="0.5"/>
<text transform="translate(123.7,530.1) rotate(-90)" font-size="3.6" text-anchor="end" class="xl">08-25</text>
<line x1="125.5" y1="527.1" x2="125.5" y2="528.7" stroke="#444" stroke-width="0.5"/>
<text transform="translate(126.7,530.1) rotate(-90)" font-size="3.6" text-anchor="end" class="xl">08-25</text>
<line x1="128.5" y1="527.1" x2="128.5" y2="528.7" stroke="#444" stroke-width="0.5"/>
<text transform="translate(129.7,530.1) rotate(-90)" font-size="3.6" text-anchor="end" class="xl">08-25</text>
<line x1="132.5" y1="527.1" x2="132.5" y2="528.7" stroke="#444" stroke-width="0.5"/>
<text transform="translate(133.7,530.1) rotate(-90)" font-size="3.6" text-anchor="end" class="xl">08-25</text>
<line x1="135" y1="527.1" x2="135" y2="528.7" stroke="#444" stroke-width="0.5"/>
<text transform="translate(136.2,530.1) rotate(-90)" font-size="3.6" text-anchor="end" class="xl">08-25</text>
<line x1="139" y1="527.1" x2="139" y2="528.7" stroke="#444" stroke-width="0.5"/>
<text transform="translate(140.2,530.1) rotate(-90)" font-size="3.6" text-anchor="end" class="xl">08-25</text>
<line x1="152" y1="527.1" x2="152" y2="528.7" stroke="#444" stroke-width="0.5"/>
<text transform="translate(153.2,530.1) rotate(-90)" font-size="3.6" text-anchor="end" class="xl">08-25</text>
<line x1="155.5" y1="527.1" x2="155.5" y2="528.7" stroke="#444" stroke-width="0.5"/>
<text transform="translate(156.7,530.1) rotate(-90)" font-size="3.6" text-anchor="end" class="xl">08-25</text>
<line x1="159.5" y1="527.1" x2="159.5" y2="528.7" stroke="#444" stroke-width="0.5"/>
<text transform="translate(160.7,530.1) rotate(-90)" font-size="3.6" text-anchor="end" class="xl">08-25</text>
<line x1="168.5" y1="527.1" x2="168.5" y2="528.7" stroke="#444" stroke-width="0.5"/>
<text transform="translate(169.7,530.1) rotate(-90)" font-size="3.6" text-anchor="end" class="xl">08-25</text>
<line x1="176" y1="527.1" x2="176" y2="528.7" stroke="#444" stroke-width="0.5"/>
<text transform="translate(177.2,530.1) rotate(-90)" font-size="3.6" text-anchor="end" class="xl">08-25</text>
<line x1="182.8" y1="527.1" x2="182.8" y2="528.7" stroke="#444" stroke-width="0.5"/>
<text transform="translate(184.0,530.1) rotate(-90)" font-size="3.6" text-anchor="end" class="xl">08-25 16</text>
<line x1="188" y1="527.1" x2="188" y2="528.7" stroke="#444" stroke-width="0.5"/>
<text transform="translate(189.2,530.1) rotate(-90)" font-size="3.6" text-anchor="end" class="xl">08-25 16</text>
<text x="107.2" y="419.3" font-size="4.1" text-anchor="middle" fill="#1a1a1a">BEAM_2021-10-17 17.48</text>
<text x="107.2" y="548.3" font-size="3.6" text-anchor="middle" fill="#1a1a1a">datetime</text>
<text transform="translate(6.0,474.1) rotate(-90)" font-size="3.6" text-anchor="middle" fill="#1a1a1a">bin_volume</text>
<rect x="152.0" y="422.4" width="43.0" height="10.0" rx="0.8" fill="#fff" fill-opacity="0.85" stroke="#d4d4d4" stroke-width="0.4"/>
<line x1="153.5" y1="425.3" x2="160.0" y2="425.3" stroke="#5a62b0" stroke-width="0.6" stroke-dasharray="1.2,0.8"/>
<line x1="153.5" y1="429.8" x2="160.0" y2="429.8" stroke="#ebd08e" stroke-width="0.6" stroke-dasharray="1.2,0.8"/>
<text x="163.0" y="426.9" font-size="3.5" fill="#1a1a1a">2021-10-17 17.48</text>
<text x="163.0" y="431.3" font-size="3.5" fill="#1a1a1a">anomalous volumes</text>
</g>
<g>
<rect x="241" y="421.7" width="13" height="105.09999999999997" fill="#fef7fa"/>
<rect x="225.0" y="505" width="163.5" height="5.800000000000011" fill="#d9f6f1"/>
<line x1="225.0" y1="490.1" x2="388.5" y2="490.1" stroke="#ebd08e" stroke-width="1.0" stroke-dasharray="1.8,0.9"/>
<line x1="225.0" y1="522.3" x2="388.5" y2="522.3" stroke="#ebd08e" stroke-width="1.0" stroke-dasharray="1.8,0.9"/>
<line x1="246.5" y1="505.6" x2="246.5" y2="484.5" stroke="#8e5640" stroke-width="0.8"/>
<line x1="248.5" y1="505.6" x2="248.5" y2="425.8" stroke="#a0948a" stroke-width="1.3"/>
<line x1="248.5" y1="505.6" x2="248.5" y2="518.3" stroke="#7e857c" stroke-width="0.8"/>
<line x1="250.5" y1="505.6" x2="250.5" y2="494" stroke="#7e857c" stroke-width="0.8"/>
<line x1="252.5" y1="505.6" x2="252.5" y2="496.7" stroke="#7e857c" stroke-width="0.8"/>
<line x1="254.5" y1="505.6" x2="254.5" y2="499.7" stroke="#7e857c" stroke-width="0.8"/>
<line x1="268.5" y1="505.6" x2="268.5" y2="512" stroke="#7e857c" stroke-width="0.8"/>
<line x1="276.5" y1="505.6" x2="276.5" y2="510.3" stroke="#7e857c" stroke-width="0.8"/>
<line x1="278.5" y1="505.6" x2="278.5" y2="491.4" stroke="#7e857c" stroke-width="0.8"/>
<line x1="296.5" y1="505.6" x2="296.5" y2="519.6" stroke="#7e857c" stroke-width="0.8"/>
<line x1="307.5" y1="505.6" x2="307.5" y2="485.8" stroke="#8e5640" stroke-width="0.8"/>
<line x1="307.5" y1="505.6" x2="307.5" y2="512.4" stroke="#7e857c" stroke-width="0.8"/>
<line x1="318.5" y1="505.6" x2="318.5" y2="502.4" stroke="#7e857c" stroke-width="0.8"/>
<line x1="324.5" y1="505.6" x2="324.5" y2="499.6" stroke="#7e857c" stroke-width="0.8"/>
<line x1="327.5" y1="505.6" x2="327.5" y2="491.2" stroke="#7e857c" stroke-width="0.8"/>
<line x1="344.5" y1="505.6" x2="344.5" y2="503.4" stroke="#7e857c" stroke-width="0.8"/>
<line x1="364.5" y1="505.6" x2="364.5" y2="502.3" stroke="#7e857c" stroke-width="0.8"/>
<line x1="374.5" y1="505.6" x2="374.5" y2="502.8" stroke="#7e857c" stroke-width="0.8"/>
<line x1="376.5" y1="505.6" x2="376.5" y2="513.5" stroke="#7e857c" stroke-width="0.8"/>
<line x1="383.5" y1="505.6" x2="383.5" y2="519.7" stroke="#8e5640" stroke-width="0.8"/>
<line x1="388.5" y1="505.6" x2="388.5" y2="497.8" stroke="#7e857c" stroke-width="0.8"/>
<rect x="225.0" y="504.6" width="163.5" height="2.0" fill="#2e7d3e"/>
<polyline points="225.0,504.8 225.9,505.9 226.8,504.5 227.7,505.3 228.7,505.0 229.6,504.8 230.5,506.7 231.4,505.1 232.3,506.0 233.2,504.8 234.1,505.1 235.0,506.1 236.0,506.0 236.9,505.3 237.8,505.6 238.7,502.6 239.6,504.5 240.5,508.5 241.4,504.8 242.4,506.6 243.3,505.6 244.2,506.2 245.1,505.0 246.0,506.1 246.9,506.5 247.8,502.5 248.7,505.9 249.7,506.2 250.6,504.5 251.5,504.8 252.4,504.5 253.3,508.6 254.2,504.5 255.1,505.8 256.1,504.5 257.0,505.1 257.9,504.7 258.8,505.9 259.7,504.8 260.6,505.3 261.5,505.8 262.4,505.3 263.4,504.5 264.3,504.9 265.2,504.4 266.1,505.8 267.0,505.7 267.9,504.7 268.8,506.1 269.8,506.1 270.7,504.5 271.6,505.1 272.5,506.3 273.4,506.6 274.3,505.3 275.2,506.2 276.2,506.8 277.1,506.5 278.0,505.9 278.9,506.6 279.8,506.5 280.7,506.4 281.6,506.7 282.5,505.4 283.5,504.7 284.4,504.5 285.3,505.1 286.2,505.9 287.1,505.5 288.0,506.8 288.9,505.3 289.9,504.9 290.8,504.9 291.7,505.2 292.6,503.4 293.5,505.1 294.4,505.9 295.3,506.1 296.2,505.6 297.2,506.5 298.1,505.4 299.0,505.4 299.9,506.2 300.8,506.0 301.7,506.3 302.6,504.9 303.6,504.8 304.5,503.0 305.4,505.8 306.3,506.7 307.2,503.3 308.1,506.4 309.0,505.7 309.9,505.3 310.9,505.9 311.8,503.3 312.7,504.6 313.6,504.7 314.5,506.4 315.4,504.7 316.3,506.1 317.3,505.7 318.2,506.5 319.1,506.7 320.0,506.3 320.9,505.5 321.8,502.9 322.7,505.6 323.6,504.5 324.6,505.9 325.5,506.8 326.4,505.1 327.3,505.6 328.2,505.3 329.1,505.6 330.0,505.6 331.0,506.8 331.9,503.2 332.8,504.8 333.7,505.4 334.6,506.2 335.5,505.1 336.4,506.5 337.3,504.4 338.3,505.6 339.2,504.7 340.1,506.2 341.0,506.0 341.9,505.5 342.8,504.5 343.7,505.2 344.7,506.3 345.6,504.5 346.5,505.5 347.4,506.3 348.3,504.5 349.2,505.5 350.1,506.6 351.1,505.9 352.0,506.6 352.9,505.9 353.8,506.1 354.7,506.3 355.6,508.1 356.5,506.7 357.4,505.0 358.4,505.2 359.3,506.2 360.2,505.2 361.1,506.1 362.0,505.5 362.9,504.6 363.8,506.4 364.8,505.9 365.7,505.3 366.6,506.7 367.5,504.7 368.4,505.8 369.3,506.2 370.2,506.5 371.1,505.4 372.1,505.3 373.0,505.3 373.9,505.2 374.8,506.4 375.7,506.0 376.6,505.3 377.5,505.0 378.5,504.6 379.4,506.6 380.3,505.3 381.2,504.7 382.1,506.5 383.0,505.0 383.9,504.9 384.8,505.2 385.8,504.9 386.7,505.4 387.6,506.1 388.5,509.4" fill="none" stroke="#2e7d3e" stroke-width="0.8" stroke-linejoin="round" marker-start="url(#m7)" marker-mid="url(#m7)" marker-end="url(#m7)"/>
<circle cx="246.5" cy="484.5" r="1.25" fill="#5a3424"/>
<circle cx="248.5" cy="425.8" r="1.25" fill="#5a3424"/>
<circle cx="248.5" cy="518.3" r="1.25" fill="#383838"/>
<circle cx="250.5" cy="494" r="1.25" fill="#383838"/>
<circle cx="252.5" cy="496.7" r="1.25" fill="#383838"/>
<circle cx="254.5" cy="499.7" r="1.25" fill="#383838"/>
<circle cx="268.5" cy="512" r="1.25" fill="#383838"/>
<circle cx="276.5" cy="510.3" r="1.25" fill="#383838"/>
<circle cx="278.5" cy="491.4" r="1.25" fill="#383838"/>
<circle cx="296.5" cy="519.6" r="1.25" fill="#383838"/>
<circle cx="307.5" cy="485.8" r="1.25" fill="#5a3424"/>
<circle cx="307.5" cy="512.4" r="1.25" fill="#383838"/>
<circle cx="318.5" cy="502.4" r="1.25" fill="#383838"/>
<circle cx="324.5" cy="499.6" r="1.25" fill="#383838"/>
<circle cx="327.5" cy="491.2" r="1.25" fill="#383838"/>
<circle cx="344.5" cy="503.4" r="1.25" fill="#383838"/>
<circle cx="364.5" cy="502.3" r="1.25" fill="#383838"/>
<circle cx="374.5" cy="502.8" r="1.25" fill="#383838"/>
<circle cx="376.5" cy="513.5" r="1.25" fill="#383838"/>
<circle cx="383.5" cy="519.7" r="1.25" fill="#5a3424"/>
<circle cx="388.5" cy="497.8" r="1.25" fill="#383838"/>
<line x1="379.6" y1="425.8" x2="379.6" y2="519.7" stroke="#5a62b0" stroke-width="0.9" stroke-dasharray="1.8,1.2"/>
<line x1="387.8" y1="425.8" x2="387.8" y2="519.7" stroke="#5a62b0" stroke-width="0.9" stroke-dasharray="1.8,1.2"/>
<rect x="217.5" y="421.2" width="178.7" height="106.1" fill="none" stroke="#7a7a7a" stroke-width="1.0"/>
<line x1="215.5" y1="422.6" x2="217.5" y2="422.6" stroke="#444" stroke-width="0.6"/>
<text x="214.9" y="423.8" font-size="3.4" text-anchor="end" fill="#1a1a1a">0.6</text>
<line x1="215.5" y1="436.5" x2="217.5" y2="436.5" stroke="#444" stroke-width="0.6"/>
<text x="214.9" y="437.7" font-size="3.4" text-anchor="end" fill="#1a1a1a">0.5</text>
<line x1="215.5" y1="450.4" x2="217.5" y2="450.4" stroke="#444" stroke-width="0.6"/>
<text x="214.9" y="451.6" font-size="3.4" text-anchor="end" fill="#1a1a1a">0.4</text>
<line x1="215.5" y1="464.4" x2="217.5" y2="464.4" stroke="#444" stroke-width="0.6"/>
<text x="214.9" y="465.6" font-size="3.4" text-anchor="end" fill="#1a1a1a">0.3</text>
<line x1="215.5" y1="478.3" x2="217.5" y2="478.3" stroke="#444" stroke-width="0.6"/>
<text x="214.9" y="479.5" font-size="3.4" text-anchor="end" fill="#1a1a1a">0.2</text>
<line x1="215.5" y1="492.3" x2="217.5" y2="492.3" stroke="#444" stroke-width="0.6"/>
<text x="214.9" y="493.5" font-size="3.4" text-anchor="end" fill="#1a1a1a">0.1</text>
<line x1="215.5" y1="506.2" x2="217.5" y2="506.2" stroke="#444" stroke-width="0.6"/>
<text x="214.9" y="507.4" font-size="3.4" text-anchor="end" fill="#1a1a1a">0.0</text>
<line x1="215.5" y1="520.2" x2="217.5" y2="520.2" stroke="#444" stroke-width="0.6"/>
<text x="214.9" y="521.4" font-size="3.4" text-anchor="end" fill="#1a1a1a">−0.1</text>
<line x1="225.5" y1="527.3" x2="225.5" y2="528.9" stroke="#444" stroke-width="0.5"/>
<text transform="translate(226.7,530.3) rotate(-90)" font-size="3.6" text-anchor="end" class="xl">08-25</text>
<line x1="228.5" y1="527.3" x2="228.5" y2="528.9" stroke="#444" stroke-width="0.5"/>
<text transform="translate(229.7,530.3) rotate(-90)" font-size="3.6" text-anchor="end" class="xl">08-25</text>
<line x1="236.5" y1="527.3" x2="236.5" y2="528.9" stroke="#444" stroke-width="0.5"/>
<text transform="translate(237.7,530.3) rotate(-90)" font-size="3.6" text-anchor="end" class="xl">08-25</text>
<line x1="255.5" y1="527.3" x2="255.5" y2="528.9" stroke="#444" stroke-width="0.5"/>
<text transform="translate(256.7,530.3) rotate(-90)" font-size="3.6" text-anchor="end" class="xl">08-25</text>
<line x1="258.5" y1="527.3" x2="258.5" y2="528.9" stroke="#444" stroke-width="0.5"/>
<text transform="translate(259.7,530.3) rotate(-90)" font-size="3.6" text-anchor="end" class="xl">08-25</text>
<line x1="267.8" y1="527.3" x2="267.8" y2="528.9" stroke="#444" stroke-width="0.5"/>
<text transform="translate(269.0,530.3) rotate(-90)" font-size="3.6" text-anchor="end" class="xl">08-25</text>
<line x1="272.8" y1="527.3" x2="272.8" y2="528.9" stroke="#444" stroke-width="0.5"/>
<text transform="translate(274.0,530.3) rotate(-90)" font-size="3.6" text-anchor="end" class="xl">08-25</text>
<line x1="279.3" y1="527.3" x2="279.3" y2="528.9" stroke="#444" stroke-width="0.5"/>
<text transform="translate(280.5,530.3) rotate(-90)" font-size="3.6" text-anchor="end" class="xl">08-25</text>
<line x1="290.2" y1="527.3" x2="290.2" y2="528.9" stroke="#444" stroke-width="0.5"/>
<text transform="translate(291.4,530.3) rotate(-90)" font-size="3.6" text-anchor="end" class="xl">08-25</text>
<line x1="300.5" y1="527.3" x2="300.5" y2="528.9" stroke="#444" stroke-width="0.5"/>
<text transform="translate(301.7,530.3) rotate(-90)" font-size="3.6" text-anchor="end" class="xl">08-25</text>
<line x1="302.5" y1="527.3" x2="302.5" y2="528.9" stroke="#444" stroke-width="0.5"/>
<text transform="translate(303.7,530.3) rotate(-90)" font-size="3.6" text-anchor="end" class="xl">08-25</text>
<line x1="314.2" y1="527.3" x2="314.2" y2="528.9" stroke="#444" stroke-width="0.5"/>
<text transform="translate(315.4,530.3) rotate(-90)" font-size="3.6" text-anchor="end" class="xl">08-25</text>
<line x1="324" y1="527.3" x2="324" y2="528.9" stroke="#444" stroke-width="0.5"/>
<text transform="translate(325.2,530.3) rotate(-90)" font-size="3.6" text-anchor="end" class="xl">08-25</text>
<line x1="327.7" y1="527.3" x2="327.7" y2="528.9" stroke="#444" stroke-width="0.5"/>
<text transform="translate(328.9,530.3) rotate(-90)" font-size="3.6" text-anchor="end" class="xl">08-25</text>
<line x1="331" y1="527.3" x2="331" y2="528.9" stroke="#444" stroke-width="0.5"/>
<text transform="translate(332.2,530.3) rotate(-90)" font-size="3.6" text-anchor="end" class="xl">08-25</text>
<line x1="335" y1="527.3" x2="335" y2="528.9" stroke="#444" stroke-width="0.5"/>
<text transform="translate(336.2,530.3) rotate(-90)" font-size="3.6" text-anchor="end" class="xl">08-25</text>
<line x1="340.5" y1="527.3" x2="340.5" y2="528.9" stroke="#444" stroke-width="0.5"/>
<text transform="translate(341.7,530.3) rotate(-90)" font-size="3.6" text-anchor="end" class="xl">08-25</text>
<line x1="347" y1="527.3" x2="347" y2="528.9" stroke="#444" stroke-width="0.5"/>
<text transform="translate(348.2,530.3) rotate(-90)" font-size="3.6" text-anchor="end" class="xl">08-25</text>
<line x1="350.5" y1="527.3" x2="350.5" y2="528.9" stroke="#444" stroke-width="0.5"/>
<text transform="translate(351.7,530.3) rotate(-90)" font-size="3.6" text-anchor="end" class="xl">08-25</text>
<line x1="360" y1="527.3" x2="360" y2="528.9" stroke="#444" stroke-width="0.5"/>
<text transform="translate(361.2,530.3) rotate(-90)" font-size="3.6" text-anchor="end" class="xl">08-25</text>
<line x1="365" y1="527.3" x2="365" y2="528.9" stroke="#444" stroke-width="0.5"/>
<text transform="translate(366.2,530.3) rotate(-90)" font-size="3.6" text-anchor="end" class="xl">08-25</text>
<line x1="367.5" y1="527.3" x2="367.5" y2="528.9" stroke="#444" stroke-width="0.5"/>
<text transform="translate(368.7,530.3) rotate(-90)" font-size="3.6" text-anchor="end" class="xl">08-25</text>
<line x1="374.8" y1="527.3" x2="374.8" y2="528.9" stroke="#444" stroke-width="0.5"/>
<text transform="translate(376.0,530.3) rotate(-90)" font-size="3.6" text-anchor="end" class="xl">08-25</text>
<line x1="382.5" y1="527.3" x2="382.5" y2="528.9" stroke="#444" stroke-width="0.5"/>
<text transform="translate(383.7,530.3) rotate(-90)" font-size="3.6" text-anchor="end" class="xl">08-25</text>
<line x1="379.5" y1="527.3" x2="379.5" y2="528.9" stroke="#444" stroke-width="0.5"/>
<text transform="translate(380.7,530.3) rotate(-90)" font-size="3.6" text-anchor="end" class="xl">08-25 16</text>
<line x1="387" y1="527.3" x2="387" y2="528.9" stroke="#444" stroke-width="0.5"/>
<text transform="translate(388.2,530.3) rotate(-90)" font-size="3.6" text-anchor="end" class="xl">08-25 16</text>
<text x="306.9" y="419.3" font-size="4.1" text-anchor="middle" fill="#1a1a1a">BEAM_2022-7-8 13.41</text>
<text x="306.9" y="548.5" font-size="3.6" text-anchor="middle" fill="#1a1a1a">datetime</text>
<text transform="translate(206.0,474.2) rotate(-90)" font-size="3.6" text-anchor="middle" fill="#1a1a1a">bin_volume</text>
<rect x="351.0" y="422.7" width="44.4" height="10.3" rx="0.8" fill="#fff" fill-opacity="0.85" stroke="#d4d4d4" stroke-width="0.4"/>
<line x1="352.5" y1="425.7" x2="359.0" y2="425.7" stroke="#5a62b0" stroke-width="0.6" stroke-dasharray="1.2,0.8"/>
<line x1="352.5" y1="430.3" x2="359.0" y2="430.3" stroke="#ebd08e" stroke-width="0.6" stroke-dasharray="1.2,0.8"/>
<text x="362.0" y="427.3" font-size="3.5" fill="#1a1a1a">2022-7-8 13.41</text>
<text x="362.0" y="431.8" font-size="3.5" fill="#1a1a1a">anomalous volumes</text>
</g>
</svg>
</body></html>
